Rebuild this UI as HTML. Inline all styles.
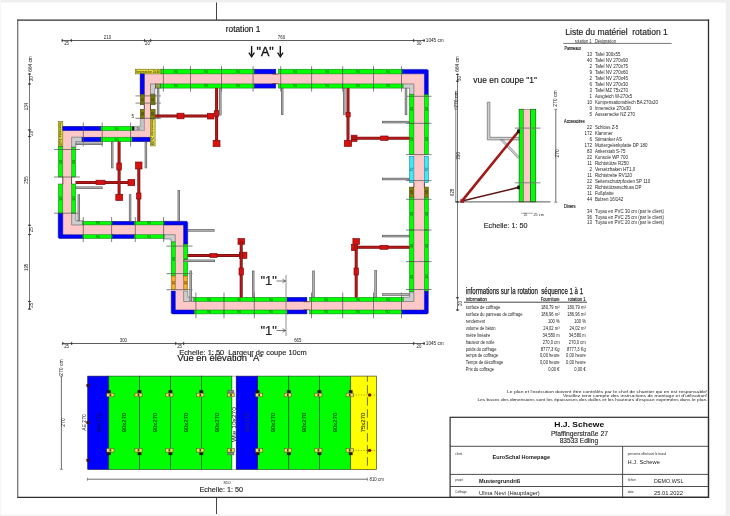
<!DOCTYPE html><html><head><meta charset="utf-8"><style>html,body{margin:0;padding:0;background:#fff;}svg{display:block;will-change:transform;} text{font-family:"Liberation Sans",sans-serif;}</style></head><body>
<svg width="730" height="516" viewBox="0 0 730 516">
<rect x="0.00" y="0.00" width="730.00" height="516.00" fill="#ffffff"/>
<rect x="0.00" y="0.00" width="730.00" height="2.50" fill="#efefef"/>
<rect x="0.00" y="0.00" width="1.00" height="516.00" fill="#f6f6f6"/>
<rect x="725.60" y="0.00" width="4.40" height="516.00" fill="#efefef"/>
<rect x="0.00" y="514.60" width="730.00" height="1.40" fill="#f3f3f3"/>
<line x1="216.50" y1="2.50" x2="216.50" y2="20.00" stroke="#444" stroke-width="1.0"/>
<line x1="216.50" y1="497.00" x2="216.50" y2="514.00" stroke="#444" stroke-width="1.0"/>
<line x1="17.00" y1="20.10" x2="709.10" y2="20.10" stroke="#2e2e2e" stroke-width="1.3"/>
<line x1="17.00" y1="497.30" x2="709.10" y2="497.30" stroke="#2e2e2e" stroke-width="1.3"/>
<line x1="17.75" y1="19.50" x2="17.75" y2="497.90" stroke="#5a5a5a" stroke-width="1.1"/>
<line x1="708.50" y1="19.50" x2="708.50" y2="497.90" stroke="#2e2e2e" stroke-width="1.3"/>
<rect x="144.20" y="73.90" width="280.30" height="10.00" fill="#ffc8c8"/>
<rect x="413.90" y="73.90" width="10.60" height="236.10" fill="#ffc8c8"/>
<rect x="175.30" y="301.50" width="249.20" height="8.50" fill="#ffc8c8"/>
<rect x="175.30" y="224.90" width="8.30" height="85.10" fill="#ffc8c8"/>
<rect x="62.80" y="224.90" width="120.80" height="9.80" fill="#ffc8c8"/>
<rect x="62.80" y="130.60" width="8.80" height="104.10" fill="#ffc8c8"/>
<rect x="62.80" y="130.60" width="87.70" height="6.60" fill="#ffc8c8"/>
<rect x="144.30" y="73.90" width="6.20" height="63.30" fill="#ffc8c8"/>
<rect x="135.30" y="69.20" width="25.70" height="4.70" fill="#e4dc3c" stroke="#6a6a10" stroke-width="0.6"/>
<text xml:space="preserve" x="148.15" y="72.90" font-size="3.9" text-anchor="middle" fill="#202000" font-weight="normal" textLength="23.70" lengthAdjust="spacingAndGlyphs">Innenecke 2x30</text>
<rect x="161.00" y="69.20" width="29.70" height="4.70" fill="#00ff00" stroke="#1f6a1f" stroke-width="0.5"/>
<text xml:space="preserve" x="175.85" y="72.85" font-size="3.6" text-anchor="middle" fill="#063a06" font-weight="normal">90</text>
<rect x="190.70" y="69.20" width="30.80" height="4.70" fill="#00ff00" stroke="#1f6a1f" stroke-width="0.5"/>
<text xml:space="preserve" x="206.10" y="72.85" font-size="3.6" text-anchor="middle" fill="#063a06" font-weight="normal">90</text>
<rect x="221.50" y="69.20" width="33.20" height="4.70" fill="#00ff00" stroke="#1f6a1f" stroke-width="0.5"/>
<text xml:space="preserve" x="238.10" y="72.85" font-size="3.6" text-anchor="middle" fill="#063a06" font-weight="normal">90</text>
<rect x="254.70" y="69.20" width="21.10" height="4.70" fill="#0000ff" stroke="#101070" stroke-width="0.5"/>
<rect x="278.40" y="69.20" width="33.20" height="4.70" fill="#00ff00" stroke="#1f6a1f" stroke-width="0.5"/>
<text xml:space="preserve" x="295.00" y="72.85" font-size="3.6" text-anchor="middle" fill="#063a06" font-weight="normal">90</text>
<rect x="311.60" y="69.20" width="31.10" height="4.70" fill="#00ff00" stroke="#1f6a1f" stroke-width="0.5"/>
<text xml:space="preserve" x="327.15" y="72.85" font-size="3.6" text-anchor="middle" fill="#063a06" font-weight="normal">90</text>
<rect x="342.70" y="69.20" width="30.80" height="4.70" fill="#00ff00" stroke="#1f6a1f" stroke-width="0.5"/>
<text xml:space="preserve" x="358.10" y="72.85" font-size="3.6" text-anchor="middle" fill="#063a06" font-weight="normal">90</text>
<rect x="373.50" y="69.20" width="28.90" height="4.70" fill="#00ff00" stroke="#1f6a1f" stroke-width="0.5"/>
<text xml:space="preserve" x="387.95" y="72.85" font-size="3.6" text-anchor="middle" fill="#063a06" font-weight="normal">90</text>
<path d="M402.4,69.4 L427.3,69.4 L428.3,70.4 L428.3,94.8 L424.4,94.8 L424.4,73.8 L402.4,73.8 Z" fill="#0000ff" stroke="#101070" stroke-width="0.5"/>
<path d="M150.5,83.9 L155.5,83.9 L155.5,88.2 L154.8,88.2 L154.8,94.0 L150.5,94.0 Z" fill="#cdcdcd" stroke="#5a5a5a" stroke-width="0.6"/>
<rect x="155.50" y="83.90" width="5.30" height="4.20" fill="#9a9a50" stroke="#333" stroke-width="0.5"/>
<rect x="160.80" y="83.90" width="29.90" height="4.20" fill="#00ff00" stroke="#1f6a1f" stroke-width="0.5"/>
<text xml:space="preserve" x="175.75" y="87.30" font-size="3.6" text-anchor="middle" fill="#063a06" font-weight="normal">90</text>
<rect x="190.70" y="83.90" width="30.80" height="4.20" fill="#00ff00" stroke="#1f6a1f" stroke-width="0.5"/>
<text xml:space="preserve" x="206.10" y="87.30" font-size="3.6" text-anchor="middle" fill="#063a06" font-weight="normal">90</text>
<rect x="221.50" y="83.90" width="33.20" height="4.20" fill="#00ff00" stroke="#1f6a1f" stroke-width="0.5"/>
<text xml:space="preserve" x="238.10" y="87.30" font-size="3.6" text-anchor="middle" fill="#063a06" font-weight="normal">90</text>
<rect x="254.70" y="83.90" width="21.10" height="4.20" fill="#0000ff" stroke="#101070" stroke-width="0.5"/>
<rect x="278.40" y="83.90" width="33.20" height="4.20" fill="#00ff00" stroke="#1f6a1f" stroke-width="0.5"/>
<text xml:space="preserve" x="295.00" y="87.30" font-size="3.6" text-anchor="middle" fill="#063a06" font-weight="normal">90</text>
<rect x="311.60" y="83.90" width="31.10" height="4.20" fill="#00ff00" stroke="#1f6a1f" stroke-width="0.5"/>
<text xml:space="preserve" x="327.15" y="87.30" font-size="3.6" text-anchor="middle" fill="#063a06" font-weight="normal">90</text>
<rect x="342.70" y="83.90" width="30.80" height="4.20" fill="#00ff00" stroke="#1f6a1f" stroke-width="0.5"/>
<text xml:space="preserve" x="358.10" y="87.30" font-size="3.6" text-anchor="middle" fill="#063a06" font-weight="normal">90</text>
<rect x="373.50" y="83.90" width="29.60" height="4.20" fill="#00ff00" stroke="#1f6a1f" stroke-width="0.5"/>
<text xml:space="preserve" x="388.30" y="87.30" font-size="3.6" text-anchor="middle" fill="#063a06" font-weight="normal">90</text>
<path d="M403.1,83.9 L413.9,83.9 L413.9,94.4 L409.59999999999997,94.4 L409.59999999999997,88.2 L403.1,88.2 Z" fill="#cdcdcd" stroke="#5a5a5a" stroke-width="0.6"/>
<rect x="275.70" y="73.90" width="2.70" height="10.00" fill="#ffc8c8"/>
<line x1="272.50" y1="74.10" x2="278.40" y2="74.10" stroke="#402020" stroke-width="0.7"/>
<line x1="272.50" y1="83.70" x2="278.40" y2="83.70" stroke="#402020" stroke-width="0.7"/>
<rect x="409.40" y="94.40" width="4.50" height="28.90" fill="#00ff00" stroke="#1f6a1f" stroke-width="0.5"/>
<text xml:space="preserve" x="412.95" y="108.85" font-size="3.6" text-anchor="middle" fill="#063a06" font-weight="normal" transform="rotate(-90 412.95 108.85)">90</text>
<rect x="409.40" y="123.30" width="4.50" height="31.30" fill="#00ff00" stroke="#1f6a1f" stroke-width="0.5"/>
<text xml:space="preserve" x="412.95" y="138.95" font-size="3.6" text-anchor="middle" fill="#063a06" font-weight="normal" transform="rotate(-90 412.95 138.95)">90</text>
<rect x="409.40" y="156.20" width="4.50" height="26.40" fill="#40e8f8" stroke="#206a80" stroke-width="0.5"/>
<text xml:space="preserve" x="412.95" y="169.40" font-size="3.6" text-anchor="middle" fill="#104050" font-weight="normal" transform="rotate(-90 412.95 169.40)">75</text>
<rect x="409.40" y="187.10" width="4.50" height="10.40" fill="#808000" stroke="#3a3a10" stroke-width="0.5"/>
<text xml:space="preserve" x="412.95" y="192.30" font-size="3.6" text-anchor="middle" fill="#222" font-weight="normal" transform="rotate(-90 412.95 192.30)">30</text>
<rect x="409.40" y="197.50" width="4.50" height="32.50" fill="#00ff00" stroke="#1f6a1f" stroke-width="0.5"/>
<text xml:space="preserve" x="412.95" y="213.75" font-size="3.6" text-anchor="middle" fill="#063a06" font-weight="normal" transform="rotate(-90 412.95 213.75)">90</text>
<rect x="409.40" y="230.00" width="4.50" height="31.60" fill="#00ff00" stroke="#1f6a1f" stroke-width="0.5"/>
<text xml:space="preserve" x="412.95" y="245.80" font-size="3.6" text-anchor="middle" fill="#063a06" font-weight="normal" transform="rotate(-90 412.95 245.80)">90</text>
<rect x="409.40" y="261.60" width="4.50" height="30.40" fill="#00ff00" stroke="#1f6a1f" stroke-width="0.5"/>
<text xml:space="preserve" x="412.95" y="276.80" font-size="3.6" text-anchor="middle" fill="#063a06" font-weight="normal" transform="rotate(-90 412.95 276.80)">90</text>
<rect x="424.40" y="94.80" width="4.00" height="28.50" fill="#00ff00" stroke="#1f6a1f" stroke-width="0.5"/>
<text xml:space="preserve" x="427.70" y="109.05" font-size="3.6" text-anchor="middle" fill="#063a06" font-weight="normal" transform="rotate(-90 427.70 109.05)">90</text>
<rect x="424.40" y="123.30" width="4.00" height="31.30" fill="#00ff00" stroke="#1f6a1f" stroke-width="0.5"/>
<text xml:space="preserve" x="427.70" y="138.95" font-size="3.6" text-anchor="middle" fill="#063a06" font-weight="normal" transform="rotate(-90 427.70 138.95)">90</text>
<rect x="424.40" y="156.20" width="4.00" height="26.40" fill="#40e8f8" stroke="#206a80" stroke-width="0.5"/>
<text xml:space="preserve" x="427.70" y="169.40" font-size="3.6" text-anchor="middle" fill="#104050" font-weight="normal" transform="rotate(-90 427.70 169.40)">75</text>
<rect x="424.40" y="187.10" width="4.00" height="10.40" fill="#808000" stroke="#3a3a10" stroke-width="0.5"/>
<text xml:space="preserve" x="427.70" y="192.30" font-size="3.6" text-anchor="middle" fill="#222" font-weight="normal" transform="rotate(-90 427.70 192.30)">30</text>
<rect x="424.40" y="197.50" width="4.00" height="32.50" fill="#00ff00" stroke="#1f6a1f" stroke-width="0.5"/>
<text xml:space="preserve" x="427.70" y="213.75" font-size="3.6" text-anchor="middle" fill="#063a06" font-weight="normal" transform="rotate(-90 427.70 213.75)">90</text>
<rect x="424.40" y="230.00" width="4.00" height="31.60" fill="#00ff00" stroke="#1f6a1f" stroke-width="0.5"/>
<text xml:space="preserve" x="427.70" y="245.80" font-size="3.6" text-anchor="middle" fill="#063a06" font-weight="normal" transform="rotate(-90 427.70 245.80)">90</text>
<rect x="424.40" y="261.60" width="4.00" height="29.60" fill="#00ff00" stroke="#1f6a1f" stroke-width="0.5"/>
<text xml:space="preserve" x="427.70" y="276.40" font-size="3.6" text-anchor="middle" fill="#063a06" font-weight="normal" transform="rotate(-90 427.70 276.40)">90</text>
<path d="M424.4,291.2 L428.3,291.2 L428.3,313.0 L427.3,314.0 L401.4,314.0 L401.4,310.0 L424.4,310.0 Z" fill="#0000ff" stroke="#101070" stroke-width="0.5"/>
<path d="M409.59999999999997,292.0 L413.9,292.0 L413.9,301.5 L403.1,301.5 L403.1,297.2 L409.59999999999997,297.2 Z" fill="#cdcdcd" stroke="#5a5a5a" stroke-width="0.6"/>
<line x1="413.90" y1="182.60" x2="413.90" y2="187.10" stroke="#222" stroke-width="0.8"/>
<line x1="424.40" y1="182.60" x2="424.40" y2="187.10" stroke="#222" stroke-width="0.8"/>
<path d="M183.6,291.0 L187.9,291.0 L187.9,297.2 L194.0,297.2 L194.0,301.5 L183.6,301.5 Z" fill="#cdcdcd" stroke="#5a5a5a" stroke-width="0.6"/>
<rect x="194.00" y="297.30" width="30.00" height="4.20" fill="#00ff00" stroke="#1f6a1f" stroke-width="0.5"/>
<text xml:space="preserve" x="209.00" y="300.70" font-size="3.6" text-anchor="middle" fill="#063a06" font-weight="normal">90</text>
<rect x="224.00" y="297.30" width="30.30" height="4.20" fill="#00ff00" stroke="#1f6a1f" stroke-width="0.5"/>
<text xml:space="preserve" x="239.15" y="300.70" font-size="3.6" text-anchor="middle" fill="#063a06" font-weight="normal">90</text>
<rect x="254.30" y="297.30" width="32.90" height="4.20" fill="#00ff00" stroke="#1f6a1f" stroke-width="0.5"/>
<text xml:space="preserve" x="270.75" y="300.70" font-size="3.6" text-anchor="middle" fill="#063a06" font-weight="normal">90</text>
<rect x="287.20" y="297.30" width="19.70" height="4.20" fill="#0000ff" stroke="#101070" stroke-width="0.5"/>
<rect x="309.60" y="297.30" width="33.10" height="4.20" fill="#00ff00" stroke="#1f6a1f" stroke-width="0.5"/>
<text xml:space="preserve" x="326.15" y="300.70" font-size="3.6" text-anchor="middle" fill="#063a06" font-weight="normal">90</text>
<rect x="342.70" y="297.30" width="30.80" height="4.20" fill="#00ff00" stroke="#1f6a1f" stroke-width="0.5"/>
<text xml:space="preserve" x="358.10" y="300.70" font-size="3.6" text-anchor="middle" fill="#063a06" font-weight="normal">90</text>
<rect x="373.50" y="297.30" width="29.60" height="4.20" fill="#00ff00" stroke="#1f6a1f" stroke-width="0.5"/>
<text xml:space="preserve" x="388.30" y="300.70" font-size="3.6" text-anchor="middle" fill="#063a06" font-weight="normal">90</text>
<rect x="194.00" y="310.00" width="30.00" height="3.90" fill="#00ff00" stroke="#1f6a1f" stroke-width="0.5"/>
<text xml:space="preserve" x="209.00" y="313.25" font-size="3.6" text-anchor="middle" fill="#063a06" font-weight="normal">90</text>
<rect x="224.00" y="310.00" width="30.30" height="3.90" fill="#00ff00" stroke="#1f6a1f" stroke-width="0.5"/>
<text xml:space="preserve" x="239.15" y="313.25" font-size="3.6" text-anchor="middle" fill="#063a06" font-weight="normal">90</text>
<rect x="254.30" y="310.00" width="32.90" height="3.90" fill="#00ff00" stroke="#1f6a1f" stroke-width="0.5"/>
<text xml:space="preserve" x="270.75" y="313.25" font-size="3.6" text-anchor="middle" fill="#063a06" font-weight="normal">90</text>
<rect x="287.20" y="310.00" width="19.70" height="3.90" fill="#0000ff" stroke="#101070" stroke-width="0.5"/>
<rect x="309.60" y="310.00" width="33.10" height="3.90" fill="#00ff00" stroke="#1f6a1f" stroke-width="0.5"/>
<text xml:space="preserve" x="326.15" y="313.25" font-size="3.6" text-anchor="middle" fill="#063a06" font-weight="normal">90</text>
<rect x="342.70" y="310.00" width="30.80" height="3.90" fill="#00ff00" stroke="#1f6a1f" stroke-width="0.5"/>
<text xml:space="preserve" x="358.10" y="313.25" font-size="3.6" text-anchor="middle" fill="#063a06" font-weight="normal">90</text>
<rect x="373.50" y="310.00" width="27.90" height="3.90" fill="#00ff00" stroke="#1f6a1f" stroke-width="0.5"/>
<text xml:space="preserve" x="387.45" y="313.25" font-size="3.6" text-anchor="middle" fill="#063a06" font-weight="normal">90</text>
<path d="M171.2,291.0 L175.3,291.0 L175.3,310.0 L194.0,310.0 L194.0,313.9 L172.2,313.9 L171.2,312.9 Z" fill="#0000ff" stroke="#101070" stroke-width="0.5"/>
<rect x="306.90" y="301.50" width="2.70" height="8.50" fill="#ffc8c8"/>
<line x1="303.50" y1="301.70" x2="309.60" y2="301.70" stroke="#402020" stroke-width="0.7"/>
<line x1="303.50" y1="309.80" x2="309.60" y2="309.80" stroke="#402020" stroke-width="0.7"/>
<path d="M164.0,234.7 L175.3,234.7 L175.3,242.0 L171.0,242.0 L171.0,239.0 L164.0,239.0 Z" fill="#cdcdcd" stroke="#5a5a5a" stroke-width="0.6"/>
<rect x="171.20" y="242.00" width="4.10" height="34.00" fill="#00ff00" stroke="#1f6a1f" stroke-width="0.5"/>
<text xml:space="preserve" x="174.55" y="259.00" font-size="3.6" text-anchor="middle" fill="#063a06" font-weight="normal" transform="rotate(-90 174.55 259.00)">90</text>
<rect x="171.20" y="276.00" width="4.10" height="13.70" fill="#f4b030" stroke="#7a5010" stroke-width="0.5"/>
<text xml:space="preserve" x="174.55" y="282.85" font-size="3.6" text-anchor="middle" fill="#402000" font-weight="normal" transform="rotate(-90 174.55 282.85)">30</text>
<path d="M164.0,221.3 L186.7,221.3 L187.7,222.3 L187.7,244.3 L183.6,244.3 L183.6,225.0 L164.0,225.0 Z" fill="#0000ff" stroke="#101070" stroke-width="0.5"/>
<rect x="183.60" y="244.30" width="4.10" height="31.70" fill="#00ff00" stroke="#1f6a1f" stroke-width="0.5"/>
<text xml:space="preserve" x="186.95" y="260.15" font-size="3.6" text-anchor="middle" fill="#063a06" font-weight="normal" transform="rotate(-90 186.95 260.15)">90</text>
<rect x="183.60" y="276.00" width="4.10" height="13.70" fill="#f4b030" stroke="#7a5010" stroke-width="0.5"/>
<text xml:space="preserve" x="186.95" y="282.85" font-size="3.6" text-anchor="middle" fill="#402000" font-weight="normal" transform="rotate(-90 186.95 282.85)">30</text>
<path d="M71.6,213.0 L75.89999999999999,213.0 L75.89999999999999,220.7 L82.9,220.7 L82.9,225.0 L71.6,225.0 Z" fill="#cdcdcd" stroke="#5a5a5a" stroke-width="0.6"/>
<rect x="82.90" y="221.30" width="29.80" height="3.60" fill="#00ff00" stroke="#1f6a1f" stroke-width="0.5"/>
<text xml:space="preserve" x="97.80" y="224.40" font-size="3.6" text-anchor="middle" fill="#063a06" font-weight="normal">90</text>
<rect x="112.70" y="221.30" width="21.50" height="3.60" fill="#0000ff" stroke="#101070" stroke-width="0.5"/>
<rect x="134.20" y="221.30" width="29.80" height="3.60" fill="#00ff00" stroke="#1f6a1f" stroke-width="0.5"/>
<text xml:space="preserve" x="149.10" y="224.40" font-size="3.6" text-anchor="middle" fill="#063a06" font-weight="normal">90</text>
<path d="M58.2,213.0 L62.8,213.0 L62.8,234.7 L82.9,234.7 L82.9,238.5 L59.2,238.5 L58.2,237.5 Z" fill="#0000ff" stroke="#101070" stroke-width="0.5"/>
<rect x="82.90" y="234.70" width="29.80" height="3.80" fill="#00ff00" stroke="#1f6a1f" stroke-width="0.5"/>
<text xml:space="preserve" x="97.80" y="237.90" font-size="3.6" text-anchor="middle" fill="#063a06" font-weight="normal">90</text>
<rect x="112.70" y="234.70" width="21.50" height="3.80" fill="#0000ff" stroke="#101070" stroke-width="0.5"/>
<rect x="134.20" y="234.70" width="29.80" height="3.80" fill="#00ff00" stroke="#1f6a1f" stroke-width="0.5"/>
<text xml:space="preserve" x="149.10" y="237.90" font-size="3.6" text-anchor="middle" fill="#063a06" font-weight="normal">90</text>
<rect x="58.40" y="121.50" width="4.40" height="25.00" fill="#e4dc3c" stroke="#6a6a10" stroke-width="0.6"/>
<text xml:space="preserve" x="59.25" y="134.00" font-size="3.9" text-anchor="middle" fill="#202000" font-weight="normal" transform="rotate(90 59.25 134.00)" textLength="23.00" lengthAdjust="spacingAndGlyphs">Innenecke 2x30</text>
<rect x="58.40" y="146.50" width="4.40" height="30.50" fill="#00ff00" stroke="#1f6a1f" stroke-width="0.5"/>
<text xml:space="preserve" x="61.90" y="161.75" font-size="3.6" text-anchor="middle" fill="#063a06" font-weight="normal" transform="rotate(-90 61.90 161.75)">90</text>
<rect x="58.40" y="184.00" width="4.40" height="29.00" fill="#00ff00" stroke="#1f6a1f" stroke-width="0.5"/>
<text xml:space="preserve" x="61.90" y="198.50" font-size="3.6" text-anchor="middle" fill="#063a06" font-weight="normal" transform="rotate(-90 61.90 198.50)">90</text>
<rect x="71.60" y="147.00" width="4.00" height="30.00" fill="#00ff00" stroke="#1f6a1f" stroke-width="0.5"/>
<text xml:space="preserve" x="74.90" y="162.00" font-size="3.6" text-anchor="middle" fill="#063a06" font-weight="normal" transform="rotate(-90 74.90 162.00)">90</text>
<rect x="71.60" y="184.00" width="4.00" height="29.00" fill="#00ff00" stroke="#1f6a1f" stroke-width="0.5"/>
<text xml:space="preserve" x="74.90" y="198.50" font-size="3.6" text-anchor="middle" fill="#063a06" font-weight="normal" transform="rotate(-90 74.90 198.50)">90</text>
<line x1="62.80" y1="177.00" x2="62.80" y2="184.00" stroke="#222" stroke-width="0.8"/>
<line x1="71.60" y1="177.00" x2="71.60" y2="184.00" stroke="#222" stroke-width="0.8"/>
<rect x="62.80" y="126.30" width="38.20" height="4.30" fill="#0000ff" stroke="#101070" stroke-width="0.5"/>
<rect x="101.00" y="126.30" width="31.20" height="4.30" fill="#00ff00" stroke="#1f6a1f" stroke-width="0.5"/>
<text xml:space="preserve" x="116.60" y="129.75" font-size="3.6" text-anchor="middle" fill="#063a06" font-weight="normal">90</text>
<rect x="132.20" y="126.30" width="2.30" height="4.30" fill="#111"/>
<path d="M134.5,126.3 L140.3,126.3 L140.3,118.3 L144.4,118.3 L144.4,130.6 L134.5,130.6 Z" fill="#c4c4c4" stroke="#666" stroke-width="0.5"/>
<text xml:space="preserve" x="138.20" y="129.80" font-size="3.0" text-anchor="middle" fill="#1e1e1e" font-weight="normal">20</text>
<path d="M71.6,137.2 L82.1,137.2 L82.1,141.5 L75.89999999999999,141.5 L75.89999999999999,147.0 L71.6,147.0 Z" fill="#cdcdcd" stroke="#5a5a5a" stroke-width="0.6"/>
<rect x="82.10" y="137.20" width="18.90" height="4.50" fill="#0000ff" stroke="#101070" stroke-width="0.5"/>
<rect x="101.00" y="137.20" width="31.20" height="4.50" fill="#00ff00" stroke="#1f6a1f" stroke-width="0.5"/>
<text xml:space="preserve" x="116.60" y="140.75" font-size="3.6" text-anchor="middle" fill="#063a06" font-weight="normal">90</text>
<rect x="132.20" y="137.20" width="18.30" height="4.50" fill="#0000ff" stroke="#101070" stroke-width="0.5"/>
<rect x="150.50" y="118.30" width="4.60" height="27.60" fill="#e4dc3c" stroke="#6a6a10" stroke-width="0.6"/>
<text xml:space="preserve" x="151.45" y="132.10" font-size="3.9" text-anchor="middle" fill="#202000" font-weight="normal" transform="rotate(90 151.45 132.10)" textLength="25.60" lengthAdjust="spacingAndGlyphs">Innenecke 2x30</text>
<rect x="140.10" y="73.90" width="4.20" height="20.60" fill="#0000ff" stroke="#101070" stroke-width="0.5"/>
<rect x="140.30" y="94.50" width="4.00" height="10.30" fill="#808000" stroke="#3a3a10" stroke-width="0.5"/>
<text xml:space="preserve" x="143.60" y="99.65" font-size="3.6" text-anchor="middle" fill="#222" font-weight="normal" transform="rotate(-90 143.60 99.65)">30</text>
<rect x="140.30" y="109.30" width="4.00" height="9.00" fill="#808000" stroke="#3a3a10" stroke-width="0.5"/>
<text xml:space="preserve" x="143.60" y="113.80" font-size="3.6" text-anchor="middle" fill="#222" font-weight="normal" transform="rotate(-90 143.60 113.80)">30</text>
<rect x="150.50" y="94.50" width="4.60" height="10.30" fill="#808000" stroke="#3a3a10" stroke-width="0.5"/>
<text xml:space="preserve" x="154.10" y="99.65" font-size="3.6" text-anchor="middle" fill="#222" font-weight="normal" transform="rotate(-90 154.10 99.65)">30</text>
<rect x="150.50" y="109.30" width="4.60" height="9.00" fill="#808000" stroke="#3a3a10" stroke-width="0.5"/>
<text xml:space="preserve" x="154.10" y="113.80" font-size="3.6" text-anchor="middle" fill="#222" font-weight="normal" transform="rotate(-90 154.10 113.80)">30</text>
<line x1="144.30" y1="104.80" x2="144.30" y2="109.30" stroke="#222" stroke-width="0.8"/>
<line x1="150.50" y1="104.80" x2="150.50" y2="109.30" stroke="#222" stroke-width="0.8"/>
<text xml:space="preserve" x="132.90" y="118.00" font-size="4.6" text-anchor="middle" fill="#1e1e1e" font-weight="normal">5</text>
<line x1="163.40" y1="66.20" x2="163.40" y2="91.60" stroke="#505050" stroke-width="0.7"/>
<line x1="190.50" y1="66.20" x2="190.50" y2="91.60" stroke="#505050" stroke-width="0.7"/>
<line x1="221.50" y1="66.20" x2="221.50" y2="91.60" stroke="#505050" stroke-width="0.7"/>
<line x1="253.10" y1="66.20" x2="253.10" y2="91.60" stroke="#505050" stroke-width="0.7"/>
<line x1="280.70" y1="66.20" x2="280.70" y2="91.60" stroke="#505050" stroke-width="0.7"/>
<line x1="311.60" y1="66.20" x2="311.60" y2="91.60" stroke="#505050" stroke-width="0.7"/>
<line x1="342.70" y1="66.20" x2="342.70" y2="91.60" stroke="#505050" stroke-width="0.7"/>
<line x1="373.50" y1="66.20" x2="373.50" y2="91.60" stroke="#505050" stroke-width="0.7"/>
<line x1="401.50" y1="66.20" x2="401.50" y2="91.60" stroke="#505050" stroke-width="0.7"/>
<line x1="406.00" y1="96.30" x2="431.50" y2="96.30" stroke="#505050" stroke-width="0.7"/>
<line x1="406.00" y1="123.30" x2="431.50" y2="123.30" stroke="#505050" stroke-width="0.7"/>
<line x1="406.00" y1="154.60" x2="431.50" y2="154.60" stroke="#505050" stroke-width="0.7"/>
<line x1="406.00" y1="180.60" x2="431.50" y2="180.60" stroke="#505050" stroke-width="0.7"/>
<line x1="406.00" y1="199.30" x2="431.50" y2="199.30" stroke="#505050" stroke-width="0.7"/>
<line x1="406.00" y1="230.00" x2="431.50" y2="230.00" stroke="#505050" stroke-width="0.7"/>
<line x1="406.00" y1="261.60" x2="431.50" y2="261.60" stroke="#505050" stroke-width="0.7"/>
<line x1="406.00" y1="289.50" x2="431.50" y2="289.50" stroke="#505050" stroke-width="0.7"/>
<line x1="195.90" y1="292.50" x2="195.90" y2="318.30" stroke="#505050" stroke-width="0.7"/>
<line x1="224.00" y1="292.50" x2="224.00" y2="318.30" stroke="#505050" stroke-width="0.7"/>
<line x1="254.30" y1="292.50" x2="254.30" y2="318.30" stroke="#505050" stroke-width="0.7"/>
<line x1="311.50" y1="292.50" x2="311.50" y2="318.30" stroke="#505050" stroke-width="0.7"/>
<line x1="342.70" y1="292.50" x2="342.70" y2="318.30" stroke="#505050" stroke-width="0.7"/>
<line x1="373.50" y1="292.50" x2="373.50" y2="318.30" stroke="#505050" stroke-width="0.7"/>
<line x1="401.50" y1="292.50" x2="401.50" y2="318.30" stroke="#505050" stroke-width="0.7"/>
<line x1="166.40" y1="246.10" x2="192.50" y2="246.10" stroke="#505050" stroke-width="0.7"/>
<line x1="166.40" y1="273.60" x2="192.50" y2="273.60" stroke="#505050" stroke-width="0.7"/>
<line x1="166.40" y1="289.70" x2="192.50" y2="289.70" stroke="#505050" stroke-width="0.7"/>
<line x1="83.30" y1="217.00" x2="83.30" y2="242.00" stroke="#505050" stroke-width="0.7"/>
<line x1="111.60" y1="217.00" x2="111.60" y2="242.00" stroke="#505050" stroke-width="0.7"/>
<line x1="135.30" y1="217.00" x2="135.30" y2="242.00" stroke="#505050" stroke-width="0.7"/>
<line x1="163.60" y1="217.00" x2="163.60" y2="242.00" stroke="#505050" stroke-width="0.7"/>
<line x1="54.00" y1="149.50" x2="80.00" y2="149.50" stroke="#505050" stroke-width="0.7"/>
<line x1="54.00" y1="177.00" x2="80.00" y2="177.00" stroke="#505050" stroke-width="0.7"/>
<line x1="54.00" y1="213.20" x2="80.00" y2="213.20" stroke="#505050" stroke-width="0.7"/>
<line x1="83.30" y1="122.50" x2="83.30" y2="146.50" stroke="#505050" stroke-width="0.7"/>
<line x1="102.20" y1="122.50" x2="102.20" y2="146.50" stroke="#505050" stroke-width="0.7"/>
<line x1="130.60" y1="122.50" x2="130.60" y2="146.50" stroke="#505050" stroke-width="0.7"/>
<line x1="135.50" y1="95.90" x2="160.90" y2="95.90" stroke="#505050" stroke-width="0.7"/>
<line x1="135.50" y1="103.10" x2="160.90" y2="103.10" stroke="#505050" stroke-width="0.7"/>
<line x1="135.50" y1="118.30" x2="160.90" y2="118.30" stroke="#505050" stroke-width="0.7"/>
<line x1="158.10" y1="88.10" x2="158.10" y2="118.30" stroke="#5a5a5a" stroke-width="2.4"/>
<line x1="158.10" y1="88.70" x2="158.10" y2="117.70" stroke="#b4b4b4" stroke-width="1.1"/>
<line x1="220.30" y1="88.10" x2="220.30" y2="115.40" stroke="#5a5a5a" stroke-width="2.4"/>
<line x1="220.30" y1="88.70" x2="220.30" y2="114.80" stroke="#b4b4b4" stroke-width="1.1"/>
<line x1="282.20" y1="88.10" x2="282.20" y2="115.00" stroke="#5a5a5a" stroke-width="2.4"/>
<line x1="282.20" y1="88.70" x2="282.20" y2="114.40" stroke="#b4b4b4" stroke-width="1.1"/>
<line x1="344.30" y1="88.10" x2="344.30" y2="115.00" stroke="#5a5a5a" stroke-width="2.4"/>
<line x1="344.30" y1="88.70" x2="344.30" y2="114.40" stroke="#b4b4b4" stroke-width="1.1"/>
<line x1="406.00" y1="88.40" x2="406.00" y2="115.00" stroke="#5a5a5a" stroke-width="2.4"/>
<line x1="406.00" y1="89.00" x2="406.00" y2="114.40" stroke="#b4b4b4" stroke-width="1.1"/>
<line x1="112.20" y1="141.70" x2="112.20" y2="168.30" stroke="#5a5a5a" stroke-width="2.4"/>
<line x1="112.20" y1="142.30" x2="112.20" y2="167.70" stroke="#b4b4b4" stroke-width="1.1"/>
<line x1="145.90" y1="141.70" x2="145.90" y2="168.30" stroke="#5a5a5a" stroke-width="2.4"/>
<line x1="145.90" y1="142.30" x2="145.90" y2="167.70" stroke="#b4b4b4" stroke-width="1.1"/>
<line x1="78.80" y1="194.30" x2="78.80" y2="221.30" stroke="#5a5a5a" stroke-width="2.4"/>
<line x1="78.80" y1="194.90" x2="78.80" y2="220.70" stroke="#b4b4b4" stroke-width="1.1"/>
<line x1="130.10" y1="194.30" x2="130.10" y2="221.30" stroke="#5a5a5a" stroke-width="2.4"/>
<line x1="130.10" y1="194.90" x2="130.10" y2="220.70" stroke="#b4b4b4" stroke-width="1.1"/>
<line x1="178.80" y1="190.00" x2="178.80" y2="221.30" stroke="#5a5a5a" stroke-width="2.4"/>
<line x1="178.80" y1="190.60" x2="178.80" y2="220.70" stroke="#b4b4b4" stroke-width="1.1"/>
<line x1="190.70" y1="270.50" x2="190.70" y2="301.00" stroke="#5a5a5a" stroke-width="2.4"/>
<line x1="190.70" y1="271.10" x2="190.70" y2="300.40" stroke="#b4b4b4" stroke-width="1.1"/>
<line x1="253.20" y1="270.60" x2="253.20" y2="297.30" stroke="#5a5a5a" stroke-width="2.4"/>
<line x1="253.20" y1="271.20" x2="253.20" y2="296.70" stroke="#b4b4b4" stroke-width="1.1"/>
<line x1="313.50" y1="270.60" x2="313.50" y2="297.30" stroke="#5a5a5a" stroke-width="2.4"/>
<line x1="313.50" y1="271.20" x2="313.50" y2="296.70" stroke="#b4b4b4" stroke-width="1.1"/>
<line x1="375.60" y1="270.00" x2="375.60" y2="297.30" stroke="#5a5a5a" stroke-width="2.4"/>
<line x1="375.60" y1="270.60" x2="375.60" y2="296.70" stroke="#b4b4b4" stroke-width="1.1"/>
<line x1="75.60" y1="143.80" x2="102.60" y2="143.80" stroke="#5a5a5a" stroke-width="2.4"/>
<line x1="76.20" y1="143.80" x2="102.00" y2="143.80" stroke="#b4b4b4" stroke-width="1.1"/>
<line x1="75.60" y1="187.70" x2="102.60" y2="187.70" stroke="#5a5a5a" stroke-width="2.4"/>
<line x1="76.20" y1="187.70" x2="102.00" y2="187.70" stroke="#b4b4b4" stroke-width="1.1"/>
<line x1="187.70" y1="230.40" x2="214.60" y2="230.40" stroke="#5a5a5a" stroke-width="2.4"/>
<line x1="188.30" y1="230.40" x2="214.00" y2="230.40" stroke="#b4b4b4" stroke-width="1.1"/>
<line x1="183.60" y1="260.80" x2="215.00" y2="260.80" stroke="#5a5a5a" stroke-width="2.4"/>
<line x1="184.20" y1="260.80" x2="214.40" y2="260.80" stroke="#b4b4b4" stroke-width="1.1"/>
<line x1="382.00" y1="122.10" x2="409.40" y2="122.10" stroke="#5a5a5a" stroke-width="2.4"/>
<line x1="382.60" y1="122.10" x2="408.80" y2="122.10" stroke="#b4b4b4" stroke-width="1.1"/>
<line x1="382.00" y1="179.00" x2="409.40" y2="179.00" stroke="#5a5a5a" stroke-width="2.4"/>
<line x1="382.60" y1="179.00" x2="408.80" y2="179.00" stroke="#b4b4b4" stroke-width="1.1"/>
<line x1="382.00" y1="236.10" x2="409.40" y2="236.10" stroke="#5a5a5a" stroke-width="2.4"/>
<line x1="382.60" y1="236.10" x2="408.80" y2="236.10" stroke="#b4b4b4" stroke-width="1.1"/>
<line x1="382.00" y1="294.50" x2="409.40" y2="294.50" stroke="#5a5a5a" stroke-width="2.4"/>
<line x1="382.60" y1="294.50" x2="408.80" y2="294.50" stroke="#b4b4b4" stroke-width="1.1"/>
<line x1="155.10" y1="116.00" x2="214.00" y2="116.00" stroke="#701010" stroke-width="3.0"/>
<line x1="155.10" y1="116.00" x2="214.00" y2="116.00" stroke="#b81818" stroke-width="1.7"/>
<rect x="177.00" y="113.20" width="7.00" height="5.60" fill="#d81010" stroke="#7a1010" stroke-width="0.7"/>
<rect x="207.40" y="113.30" width="6.60" height="5.70" fill="#d81010" stroke="#7a1010" stroke-width="0.7"/>
<line x1="216.60" y1="88.10" x2="216.60" y2="144.00" stroke="#701010" stroke-width="3.0"/>
<line x1="216.60" y1="88.10" x2="216.60" y2="144.00" stroke="#b81818" stroke-width="1.7"/>
<rect x="214.40" y="110.70" width="4.30" height="5.60" fill="#d81010" stroke="#7a1010" stroke-width="0.7"/>
<rect x="213.10" y="140.30" width="6.90" height="6.40" fill="#d81010" stroke="#7a1010" stroke-width="0.7"/>
<line x1="348.00" y1="88.10" x2="348.00" y2="141.00" stroke="#701010" stroke-width="3.0"/>
<line x1="348.00" y1="88.10" x2="348.00" y2="141.00" stroke="#b81818" stroke-width="1.7"/>
<rect x="346.00" y="112.60" width="4.20" height="4.30" fill="#d81010" stroke="#7a1010" stroke-width="0.7"/>
<rect x="351.20" y="135.20" width="5.80" height="6.20" fill="#d81010" stroke="#7a1010" stroke-width="0.7"/>
<rect x="344.30" y="140.60" width="7.30" height="5.80" fill="#d81010" stroke="#7a1010" stroke-width="0.7"/>
<line x1="351.00" y1="138.20" x2="409.40" y2="138.20" stroke="#701010" stroke-width="3.0"/>
<line x1="351.00" y1="138.20" x2="409.40" y2="138.20" stroke="#b81818" stroke-width="1.7"/>
<rect x="380.70" y="136.00" width="7.30" height="4.40" fill="#d81010" stroke="#7a1010" stroke-width="0.7"/>
<line x1="356.50" y1="247.30" x2="409.40" y2="247.30" stroke="#701010" stroke-width="3.0"/>
<line x1="356.50" y1="247.30" x2="409.40" y2="247.30" stroke="#b81818" stroke-width="1.7"/>
<rect x="380.00" y="245.30" width="8.00" height="4.00" fill="#d81010" stroke="#7a1010" stroke-width="0.7"/>
<rect x="352.90" y="238.60" width="6.60" height="5.70" fill="#d81010" stroke="#7a1010" stroke-width="0.7"/>
<rect x="351.50" y="244.30" width="5.50" height="6.30" fill="#d81010" stroke="#7a1010" stroke-width="0.7"/>
<line x1="356.20" y1="244.00" x2="356.20" y2="297.30" stroke="#701010" stroke-width="3.0"/>
<line x1="356.20" y1="244.00" x2="356.20" y2="297.30" stroke="#b81818" stroke-width="1.7"/>
<rect x="354.00" y="268.00" width="4.40" height="7.00" fill="#d81010" stroke="#7a1010" stroke-width="0.7"/>
<line x1="187.70" y1="255.50" x2="246.00" y2="255.50" stroke="#701010" stroke-width="3.0"/>
<line x1="187.70" y1="255.50" x2="246.00" y2="255.50" stroke="#b81818" stroke-width="1.7"/>
<rect x="210.00" y="253.50" width="7.00" height="4.00" fill="#d81010" stroke="#7a1010" stroke-width="0.7"/>
<rect x="238.00" y="238.60" width="6.60" height="5.70" fill="#d81010" stroke="#7a1010" stroke-width="0.7"/>
<rect x="239.50" y="252.20" width="7.40" height="6.10" fill="#d81010" stroke="#7a1010" stroke-width="0.7"/>
<line x1="241.20" y1="241.00" x2="241.20" y2="297.30" stroke="#701010" stroke-width="3.0"/>
<line x1="241.20" y1="241.00" x2="241.20" y2="297.30" stroke="#b81818" stroke-width="1.7"/>
<rect x="239.00" y="268.00" width="4.40" height="7.00" fill="#d81010" stroke="#7a1010" stroke-width="0.7"/>
<line x1="75.60" y1="182.40" x2="134.70" y2="182.40" stroke="#701010" stroke-width="3.0"/>
<line x1="75.60" y1="182.40" x2="134.70" y2="182.40" stroke="#b81818" stroke-width="1.7"/>
<rect x="96.00" y="180.20" width="9.00" height="4.40" fill="#d81010" stroke="#7a1010" stroke-width="0.7"/>
<rect x="128.00" y="179.50" width="6.70" height="6.20" fill="#d81010" stroke="#7a1010" stroke-width="0.7"/>
<line x1="119.10" y1="141.70" x2="119.10" y2="196.70" stroke="#701010" stroke-width="3.0"/>
<line x1="119.10" y1="141.70" x2="119.10" y2="196.70" stroke="#b81818" stroke-width="1.7"/>
<rect x="116.80" y="163.00" width="4.60" height="7.00" fill="#d81010" stroke="#7a1010" stroke-width="0.7"/>
<rect x="115.80" y="194.30" width="6.90" height="6.20" fill="#d81010" stroke="#7a1010" stroke-width="0.7"/>
<line x1="138.80" y1="162.00" x2="138.80" y2="221.30" stroke="#701010" stroke-width="3.0"/>
<line x1="138.80" y1="162.00" x2="138.80" y2="221.30" stroke="#b81818" stroke-width="1.7"/>
<rect x="135.50" y="162.00" width="6.50" height="7.00" fill="#d81010" stroke="#7a1010" stroke-width="0.7"/>
<rect x="136.60" y="193.00" width="4.40" height="6.00" fill="#d81010" stroke="#7a1010" stroke-width="0.7"/>
<line x1="286.00" y1="275.00" x2="286.00" y2="336.00" stroke="#777" stroke-width="0.8"/>
<text xml:space="preserve" x="268.60" y="284.60" font-size="13.0" text-anchor="middle" fill="#2a2a2a" font-weight="normal" textLength="16.40" lengthAdjust="spacingAndGlyphs" stroke="#2a2a2a" stroke-width="0.234">"1"</text>
<line x1="276.50" y1="281.00" x2="285.50" y2="281.00" stroke="#444" stroke-width="0.7"/>
<line x1="282.50" y1="279.20" x2="285.50" y2="281.00" stroke="#444" stroke-width="0.7"/>
<line x1="282.50" y1="282.80" x2="285.50" y2="281.00" stroke="#444" stroke-width="0.7"/>
<text xml:space="preserve" x="268.60" y="334.80" font-size="13.0" text-anchor="middle" fill="#2a2a2a" font-weight="normal" textLength="16.40" lengthAdjust="spacingAndGlyphs" stroke="#2a2a2a" stroke-width="0.234">"1"</text>
<line x1="276.50" y1="330.50" x2="285.50" y2="330.50" stroke="#444" stroke-width="0.7"/>
<line x1="282.50" y1="328.70" x2="285.50" y2="330.50" stroke="#444" stroke-width="0.7"/>
<line x1="282.50" y1="332.30" x2="285.50" y2="330.50" stroke="#444" stroke-width="0.7"/>
<text xml:space="preserve" x="265.15" y="56.00" font-size="12.5" text-anchor="middle" fill="#111" font-weight="normal" textLength="17.30" lengthAdjust="spacingAndGlyphs" stroke="#111" stroke-width="0.35">"A"</text>
<line x1="251.60" y1="46.10" x2="251.60" y2="55.50" stroke="#111" stroke-width="1.4"/>
<path d="M248.90,52.6 L251.60,56.9 L254.30,52.6" fill="none" stroke="#111" stroke-width="1.3" stroke-linejoin="miter"/>
<line x1="280.30" y1="46.10" x2="280.30" y2="55.50" stroke="#111" stroke-width="1.4"/>
<path d="M277.60,52.6 L280.30,56.9 L283.00,52.6" fill="none" stroke="#111" stroke-width="1.3" stroke-linejoin="miter"/>
<text xml:space="preserve" x="243.10" y="32.30" font-size="8.6" text-anchor="middle" fill="#151515" font-weight="normal" textLength="34.60" lengthAdjust="spacingAndGlyphs" stroke="#151515" stroke-width="0.155">rotation 1</text>
<line x1="62.30" y1="40.50" x2="424.10" y2="40.50" stroke="#4a4a4a" stroke-width="0.9"/>
<line x1="62.30" y1="38.90" x2="62.30" y2="42.10" stroke="#4a4a4a" stroke-width="0.7"/>
<rect x="61.60" y="39.60" width="1.40" height="1.80" fill="#333"/>
<line x1="71.40" y1="38.90" x2="71.40" y2="42.10" stroke="#4a4a4a" stroke-width="0.7"/>
<rect x="70.70" y="39.60" width="1.40" height="1.80" fill="#333"/>
<line x1="144.60" y1="38.90" x2="144.60" y2="42.10" stroke="#4a4a4a" stroke-width="0.7"/>
<rect x="143.90" y="39.60" width="1.40" height="1.80" fill="#333"/>
<line x1="150.60" y1="38.90" x2="150.60" y2="42.10" stroke="#4a4a4a" stroke-width="0.7"/>
<rect x="149.90" y="39.60" width="1.40" height="1.80" fill="#333"/>
<line x1="413.60" y1="38.90" x2="413.60" y2="42.10" stroke="#4a4a4a" stroke-width="0.7"/>
<rect x="412.90" y="39.60" width="1.40" height="1.80" fill="#333"/>
<line x1="424.10" y1="38.90" x2="424.10" y2="42.10" stroke="#4a4a4a" stroke-width="0.7"/>
<rect x="423.40" y="39.60" width="1.40" height="1.80" fill="#333"/>
<text xml:space="preserve" x="66.60" y="45.20" font-size="5.0" text-anchor="middle" fill="#1a1a1a" font-weight="normal" textLength="4.84" lengthAdjust="spacingAndGlyphs">25</text>
<text xml:space="preserve" x="107.50" y="38.80" font-size="5.0" text-anchor="middle" fill="#1a1a1a" font-weight="normal" textLength="7.26" lengthAdjust="spacingAndGlyphs">210</text>
<text xml:space="preserve" x="147.50" y="45.20" font-size="5.0" text-anchor="middle" fill="#1a1a1a" font-weight="normal" textLength="4.84" lengthAdjust="spacingAndGlyphs">20</text>
<text xml:space="preserve" x="281.50" y="38.80" font-size="5.0" text-anchor="middle" fill="#1a1a1a" font-weight="normal" textLength="7.26" lengthAdjust="spacingAndGlyphs">760</text>
<text xml:space="preserve" x="419.00" y="45.20" font-size="5.0" text-anchor="middle" fill="#1a1a1a" font-weight="normal" textLength="4.84" lengthAdjust="spacingAndGlyphs">30</text>
<text xml:space="preserve" x="425.80" y="42.20" font-size="5.2" text-anchor="start" fill="#1a1a1a" font-weight="normal" textLength="17.95" lengthAdjust="spacingAndGlyphs">1045 cm</text>
<line x1="62.70" y1="343.50" x2="424.10" y2="343.50" stroke="#4a4a4a" stroke-width="0.9"/>
<line x1="62.70" y1="341.90" x2="62.70" y2="345.10" stroke="#4a4a4a" stroke-width="0.7"/>
<rect x="62.00" y="342.60" width="1.40" height="1.80" fill="#333"/>
<line x1="71.60" y1="341.90" x2="71.60" y2="345.10" stroke="#4a4a4a" stroke-width="0.7"/>
<rect x="70.90" y="342.60" width="1.40" height="1.80" fill="#333"/>
<line x1="175.70" y1="341.90" x2="175.70" y2="345.10" stroke="#4a4a4a" stroke-width="0.7"/>
<rect x="175.00" y="342.60" width="1.40" height="1.80" fill="#333"/>
<line x1="183.60" y1="341.90" x2="183.60" y2="345.10" stroke="#4a4a4a" stroke-width="0.7"/>
<rect x="182.90" y="342.60" width="1.40" height="1.80" fill="#333"/>
<line x1="413.60" y1="341.90" x2="413.60" y2="345.10" stroke="#4a4a4a" stroke-width="0.7"/>
<rect x="412.90" y="342.60" width="1.40" height="1.80" fill="#333"/>
<line x1="424.10" y1="341.90" x2="424.10" y2="345.10" stroke="#4a4a4a" stroke-width="0.7"/>
<rect x="423.40" y="342.60" width="1.40" height="1.80" fill="#333"/>
<text xml:space="preserve" x="66.60" y="348.20" font-size="5.0" text-anchor="middle" fill="#1a1a1a" font-weight="normal" textLength="4.84" lengthAdjust="spacingAndGlyphs">25</text>
<text xml:space="preserve" x="123.40" y="341.80" font-size="5.0" text-anchor="middle" fill="#1a1a1a" font-weight="normal" textLength="7.26" lengthAdjust="spacingAndGlyphs">300</text>
<text xml:space="preserve" x="179.60" y="348.20" font-size="5.0" text-anchor="middle" fill="#1a1a1a" font-weight="normal" textLength="4.84" lengthAdjust="spacingAndGlyphs">25</text>
<text xml:space="preserve" x="297.80" y="341.80" font-size="5.0" text-anchor="middle" fill="#1a1a1a" font-weight="normal" textLength="7.26" lengthAdjust="spacingAndGlyphs">665</text>
<text xml:space="preserve" x="419.00" y="348.20" font-size="5.0" text-anchor="middle" fill="#1a1a1a" font-weight="normal" textLength="4.84" lengthAdjust="spacingAndGlyphs">20</text>
<text xml:space="preserve" x="425.80" y="345.20" font-size="5.2" text-anchor="start" fill="#1a1a1a" font-weight="normal" textLength="17.95" lengthAdjust="spacingAndGlyphs">1045 cm</text>
<line x1="29.50" y1="74.00" x2="29.50" y2="309.00" stroke="#6a6a6a" stroke-width="0.9"/>
<line x1="27.90" y1="74.00" x2="31.10" y2="74.00" stroke="#4a4a4a" stroke-width="0.7"/>
<rect x="28.60" y="73.30" width="1.80" height="1.40" fill="#333"/>
<line x1="27.90" y1="84.00" x2="31.10" y2="84.00" stroke="#4a4a4a" stroke-width="0.7"/>
<rect x="28.60" y="83.30" width="1.80" height="1.40" fill="#333"/>
<line x1="27.90" y1="130.00" x2="31.10" y2="130.00" stroke="#4a4a4a" stroke-width="0.7"/>
<rect x="28.60" y="129.30" width="1.80" height="1.40" fill="#333"/>
<line x1="27.90" y1="136.50" x2="31.10" y2="136.50" stroke="#4a4a4a" stroke-width="0.7"/>
<rect x="28.60" y="135.80" width="1.80" height="1.40" fill="#333"/>
<line x1="27.90" y1="225.30" x2="31.10" y2="225.30" stroke="#4a4a4a" stroke-width="0.7"/>
<rect x="28.60" y="224.60" width="1.80" height="1.40" fill="#333"/>
<line x1="27.90" y1="234.50" x2="31.10" y2="234.50" stroke="#4a4a4a" stroke-width="0.7"/>
<rect x="28.60" y="233.80" width="1.80" height="1.40" fill="#333"/>
<line x1="27.90" y1="301.50" x2="31.10" y2="301.50" stroke="#4a4a4a" stroke-width="0.7"/>
<rect x="28.60" y="300.80" width="1.80" height="1.40" fill="#333"/>
<line x1="27.90" y1="309.00" x2="31.10" y2="309.00" stroke="#4a4a4a" stroke-width="0.7"/>
<rect x="28.60" y="308.30" width="1.80" height="1.40" fill="#333"/>
<text xml:space="preserve" x="31.60" y="64.00" font-size="5.2" text-anchor="middle" fill="#1a1a1a" font-weight="normal" transform="rotate(-90 31.60 64.00)" textLength="15.35" lengthAdjust="spacingAndGlyphs">664 cm</text>
<text xml:space="preserve" x="33.40" y="78.80" font-size="5.0" text-anchor="middle" fill="#1a1a1a" font-weight="normal" transform="rotate(-90 33.40 78.80)" textLength="4.84" lengthAdjust="spacingAndGlyphs">30</text>
<text xml:space="preserve" x="28.10" y="106.60" font-size="5.0" text-anchor="middle" fill="#1a1a1a" font-weight="normal" transform="rotate(-90 28.10 106.60)" textLength="7.26" lengthAdjust="spacingAndGlyphs">134</text>
<text xml:space="preserve" x="33.40" y="133.20" font-size="5.0" text-anchor="middle" fill="#1a1a1a" font-weight="normal" transform="rotate(-90 33.40 133.20)" textLength="4.84" lengthAdjust="spacingAndGlyphs">20</text>
<text xml:space="preserve" x="28.10" y="180.00" font-size="5.0" text-anchor="middle" fill="#1a1a1a" font-weight="normal" transform="rotate(-90 28.10 180.00)" textLength="7.26" lengthAdjust="spacingAndGlyphs">255</text>
<text xml:space="preserve" x="33.40" y="229.80" font-size="5.0" text-anchor="middle" fill="#1a1a1a" font-weight="normal" transform="rotate(-90 33.40 229.80)" textLength="4.84" lengthAdjust="spacingAndGlyphs">25</text>
<text xml:space="preserve" x="28.10" y="267.40" font-size="5.0" text-anchor="middle" fill="#1a1a1a" font-weight="normal" transform="rotate(-90 28.10 267.40)" textLength="7.26" lengthAdjust="spacingAndGlyphs">195</text>
<text xml:space="preserve" x="33.40" y="305.30" font-size="5.0" text-anchor="middle" fill="#1a1a1a" font-weight="normal" transform="rotate(-90 33.40 305.30)" textLength="4.84" lengthAdjust="spacingAndGlyphs">25</text>
<line x1="457.50" y1="74.40" x2="457.50" y2="310.00" stroke="#6a6a6a" stroke-width="0.9"/>
<line x1="455.90" y1="74.40" x2="459.10" y2="74.40" stroke="#4a4a4a" stroke-width="0.7"/>
<rect x="456.60" y="73.70" width="1.80" height="1.40" fill="#333"/>
<line x1="455.90" y1="81.20" x2="459.10" y2="81.20" stroke="#4a4a4a" stroke-width="0.7"/>
<rect x="456.60" y="80.50" width="1.80" height="1.40" fill="#333"/>
<line x1="455.90" y1="202.00" x2="459.10" y2="202.00" stroke="#4a4a4a" stroke-width="0.7"/>
<rect x="456.60" y="201.30" width="1.80" height="1.40" fill="#333"/>
<line x1="455.90" y1="297.70" x2="459.10" y2="297.70" stroke="#4a4a4a" stroke-width="0.7"/>
<rect x="456.60" y="297.00" width="1.80" height="1.40" fill="#333"/>
<line x1="455.90" y1="310.00" x2="459.10" y2="310.00" stroke="#4a4a4a" stroke-width="0.7"/>
<rect x="456.60" y="309.30" width="1.80" height="1.40" fill="#333"/>
<text xml:space="preserve" x="459.40" y="64.00" font-size="5.2" text-anchor="middle" fill="#1a1a1a" font-weight="normal" transform="rotate(-90 459.40 64.00)" textLength="15.35" lengthAdjust="spacingAndGlyphs">664 cm</text>
<text xml:space="preserve" x="461.50" y="78.60" font-size="5.0" text-anchor="middle" fill="#1a1a1a" font-weight="normal" transform="rotate(-90 461.50 78.60)" textLength="4.84" lengthAdjust="spacingAndGlyphs">30</text>
<text xml:space="preserve" x="459.90" y="155.80" font-size="5.0" text-anchor="middle" fill="#1a1a1a" font-weight="normal" transform="rotate(-90 459.90 155.80)" textLength="7.26" lengthAdjust="spacingAndGlyphs">290</text>
<text xml:space="preserve" x="454.30" y="192.40" font-size="5.0" text-anchor="middle" fill="#1a1a1a" font-weight="normal" transform="rotate(-90 454.30 192.40)" textLength="7.26" lengthAdjust="spacingAndGlyphs">628</text>
<text xml:space="preserve" x="461.50" y="303.50" font-size="5.0" text-anchor="middle" fill="#1a1a1a" font-weight="normal" transform="rotate(-90 461.50 303.50)" textLength="4.84" lengthAdjust="spacingAndGlyphs">20</text>
<line x1="455.80" y1="90.70" x2="455.80" y2="202.00" stroke="#4a4a4a" stroke-width="0.7"/>
<line x1="454.30" y1="109.00" x2="457.30" y2="109.00" stroke="#4a4a4a" stroke-width="0.6"/>
<text xml:space="preserve" x="457.50" y="99.50" font-size="5.0" text-anchor="middle" fill="#1e1e1e" font-weight="normal" transform="rotate(-90 457.50 99.50)">270 cm</text>
<rect x="87.70" y="376.10" width="21.10" height="93.40" fill="#0000ff" stroke="#1a1a3a" stroke-width="0.6"/>
<rect x="108.80" y="376.10" width="30.70" height="93.40" fill="#00ff00" stroke="#1a3a1a" stroke-width="0.6"/>
<rect x="139.50" y="376.10" width="30.90" height="93.40" fill="#00ff00" stroke="#1a3a1a" stroke-width="0.6"/>
<rect x="170.40" y="376.10" width="30.90" height="93.40" fill="#00ff00" stroke="#1a3a1a" stroke-width="0.6"/>
<rect x="201.30" y="376.10" width="30.70" height="93.40" fill="#00ff00" stroke="#1a3a1a" stroke-width="0.6"/>
<rect x="257.60" y="376.10" width="31.20" height="93.40" fill="#00ff00" stroke="#1a3a1a" stroke-width="0.6"/>
<rect x="288.80" y="376.10" width="30.60" height="93.40" fill="#00ff00" stroke="#1a3a1a" stroke-width="0.6"/>
<rect x="319.40" y="376.10" width="31.30" height="93.40" fill="#00ff00" stroke="#1a3a1a" stroke-width="0.6"/>
<rect x="232.00" y="376.10" width="4.20" height="93.40" fill="#f8fff8" stroke="#555" stroke-width="0.4"/>
<rect x="236.20" y="376.10" width="21.40" height="93.40" fill="#0000ff" stroke="#1a1a3a" stroke-width="0.6"/>
<rect x="350.70" y="376.10" width="25.80" height="93.40" fill="#ffff00" stroke="#4a4a10" stroke-width="0.7"/>
<line x1="367.40" y1="376.10" x2="367.40" y2="469.50" stroke="#4a4a10" stroke-width="0.8" stroke-dasharray="8.5 3.5" stroke-dashoffset="2.9"/>
<line x1="353.00" y1="395.00" x2="376.00" y2="395.00" stroke="#5a5a10" stroke-width="0.6" stroke-dasharray="1.2 1.4"/>
<circle cx="369.6" cy="395.00" r="1.7" fill="#7a1a08"/>
<line x1="353.00" y1="450.40" x2="376.00" y2="450.40" stroke="#5a5a10" stroke-width="0.6" stroke-dasharray="1.2 1.4"/>
<circle cx="369.6" cy="450.40" r="1.7" fill="#7a1a08"/>
<rect x="106.90" y="390.20" width="3.80" height="3.00" fill="#2a1208"/>
<rect x="106.80" y="393.20" width="7.20" height="3.60" fill="#e8e060" stroke="#505020" stroke-width="0.5"/>
<rect x="109.60" y="393.80" width="1.60" height="2.40" fill="#404018"/>
<rect x="106.90" y="452.10" width="3.80" height="3.00" fill="#2a1208"/>
<rect x="106.80" y="448.50" width="7.20" height="3.60" fill="#e8e060" stroke="#505020" stroke-width="0.5"/>
<rect x="109.60" y="449.10" width="1.60" height="2.40" fill="#404018"/>
<rect x="137.60" y="390.20" width="3.80" height="3.00" fill="#2a1208"/>
<rect x="134.90" y="393.20" width="7.20" height="3.60" fill="#e8e060" stroke="#505020" stroke-width="0.5"/>
<rect x="137.70" y="393.80" width="1.60" height="2.40" fill="#404018"/>
<rect x="137.60" y="452.10" width="3.80" height="3.00" fill="#2a1208"/>
<rect x="134.90" y="448.50" width="7.20" height="3.60" fill="#e8e060" stroke="#505020" stroke-width="0.5"/>
<rect x="137.70" y="449.10" width="1.60" height="2.40" fill="#404018"/>
<rect x="168.50" y="390.20" width="3.80" height="3.00" fill="#2a1208"/>
<rect x="165.80" y="393.20" width="7.20" height="3.60" fill="#e8e060" stroke="#505020" stroke-width="0.5"/>
<rect x="168.60" y="393.80" width="1.60" height="2.40" fill="#404018"/>
<rect x="168.50" y="452.10" width="3.80" height="3.00" fill="#2a1208"/>
<rect x="165.80" y="448.50" width="7.20" height="3.60" fill="#e8e060" stroke="#505020" stroke-width="0.5"/>
<rect x="168.60" y="449.10" width="1.60" height="2.40" fill="#404018"/>
<rect x="199.40" y="390.20" width="3.80" height="3.00" fill="#2a1208"/>
<rect x="196.70" y="393.20" width="7.20" height="3.60" fill="#e8e060" stroke="#505020" stroke-width="0.5"/>
<rect x="199.50" y="393.80" width="1.60" height="2.40" fill="#404018"/>
<rect x="199.40" y="452.10" width="3.80" height="3.00" fill="#2a1208"/>
<rect x="196.70" y="448.50" width="7.20" height="3.60" fill="#e8e060" stroke="#505020" stroke-width="0.5"/>
<rect x="199.50" y="449.10" width="1.60" height="2.40" fill="#404018"/>
<rect x="227.90" y="390.40" width="6.00" height="2.60" fill="#8a8a8a" stroke="#444" stroke-width="0.4"/>
<rect x="227.40" y="393.20" width="7.20" height="3.60" fill="#e8e060" stroke="#505020" stroke-width="0.5"/>
<rect x="230.20" y="393.80" width="1.60" height="2.40" fill="#404018"/>
<rect x="227.90" y="452.30" width="6.00" height="2.60" fill="#8a8a8a" stroke="#444" stroke-width="0.4"/>
<rect x="227.40" y="448.50" width="7.20" height="3.60" fill="#e8e060" stroke="#505020" stroke-width="0.5"/>
<rect x="230.20" y="449.10" width="1.60" height="2.40" fill="#404018"/>
<rect x="255.70" y="390.20" width="3.80" height="3.00" fill="#2a1208"/>
<rect x="255.60" y="393.20" width="7.20" height="3.60" fill="#e8e060" stroke="#505020" stroke-width="0.5"/>
<rect x="258.40" y="393.80" width="1.60" height="2.40" fill="#404018"/>
<rect x="255.70" y="452.10" width="3.80" height="3.00" fill="#2a1208"/>
<rect x="255.60" y="448.50" width="7.20" height="3.60" fill="#e8e060" stroke="#505020" stroke-width="0.5"/>
<rect x="258.40" y="449.10" width="1.60" height="2.40" fill="#404018"/>
<rect x="286.90" y="390.20" width="3.80" height="3.00" fill="#2a1208"/>
<rect x="284.20" y="393.20" width="7.20" height="3.60" fill="#e8e060" stroke="#505020" stroke-width="0.5"/>
<rect x="287.00" y="393.80" width="1.60" height="2.40" fill="#404018"/>
<rect x="286.90" y="452.10" width="3.80" height="3.00" fill="#2a1208"/>
<rect x="284.20" y="448.50" width="7.20" height="3.60" fill="#e8e060" stroke="#505020" stroke-width="0.5"/>
<rect x="287.00" y="449.10" width="1.60" height="2.40" fill="#404018"/>
<rect x="317.50" y="390.20" width="3.80" height="3.00" fill="#2a1208"/>
<rect x="314.80" y="393.20" width="7.20" height="3.60" fill="#e8e060" stroke="#505020" stroke-width="0.5"/>
<rect x="317.60" y="393.80" width="1.60" height="2.40" fill="#404018"/>
<rect x="317.50" y="452.10" width="3.80" height="3.00" fill="#2a1208"/>
<rect x="314.80" y="448.50" width="7.20" height="3.60" fill="#e8e060" stroke="#505020" stroke-width="0.5"/>
<rect x="317.60" y="449.10" width="1.60" height="2.40" fill="#404018"/>
<rect x="348.80" y="390.20" width="3.80" height="3.00" fill="#2a1208"/>
<rect x="346.10" y="393.20" width="7.20" height="3.60" fill="#e8e060" stroke="#505020" stroke-width="0.5"/>
<rect x="348.90" y="393.80" width="1.60" height="2.40" fill="#404018"/>
<rect x="348.80" y="452.10" width="3.80" height="3.00" fill="#2a1208"/>
<rect x="346.10" y="448.50" width="7.20" height="3.60" fill="#e8e060" stroke="#505020" stroke-width="0.5"/>
<rect x="348.90" y="449.10" width="1.60" height="2.40" fill="#404018"/>
<rect x="86.40" y="384.10" width="2.80" height="2.80" fill="#401010"/>
<rect x="86.40" y="421.10" width="2.80" height="2.80" fill="#401010"/>
<rect x="86.40" y="458.90" width="2.80" height="2.80" fill="#401010"/>
<text xml:space="preserve" x="100.50" y="422.50" font-size="6.0" text-anchor="middle" fill="#101060" font-weight="normal" transform="rotate(-90 100.50 422.50)" stroke="#101060" stroke-width="0.108">90x270</text>
<text xml:space="preserve" x="126.00" y="422.50" font-size="6.0" text-anchor="middle" fill="#1a3a1a" font-weight="normal" transform="rotate(-90 126.00 422.50)" stroke="#1a3a1a" stroke-width="0.108">90x270</text>
<text xml:space="preserve" x="157.00" y="422.50" font-size="6.0" text-anchor="middle" fill="#1a3a1a" font-weight="normal" transform="rotate(-90 157.00 422.50)" stroke="#1a3a1a" stroke-width="0.108">90x270</text>
<text xml:space="preserve" x="187.90" y="422.50" font-size="6.0" text-anchor="middle" fill="#1a3a1a" font-weight="normal" transform="rotate(-90 187.90 422.50)" stroke="#1a3a1a" stroke-width="0.108">90x270</text>
<text xml:space="preserve" x="218.70" y="422.50" font-size="6.0" text-anchor="middle" fill="#1a3a1a" font-weight="normal" transform="rotate(-90 218.70 422.50)" stroke="#1a3a1a" stroke-width="0.108">90x270</text>
<text xml:space="preserve" x="249.10" y="422.50" font-size="6.0" text-anchor="middle" fill="#202080" font-weight="normal" transform="rotate(-90 249.10 422.50)" stroke="#202080" stroke-width="0.108">90x270</text>
<text xml:space="preserve" x="275.10" y="422.50" font-size="6.0" text-anchor="middle" fill="#1a3a1a" font-weight="normal" transform="rotate(-90 275.10 422.50)" stroke="#1a3a1a" stroke-width="0.108">90x270</text>
<text xml:space="preserve" x="306.10" y="422.50" font-size="6.0" text-anchor="middle" fill="#1a3a1a" font-weight="normal" transform="rotate(-90 306.10 422.50)" stroke="#1a3a1a" stroke-width="0.108">90x270</text>
<text xml:space="preserve" x="337.20" y="422.50" font-size="6.0" text-anchor="middle" fill="#1a3a1a" font-weight="normal" transform="rotate(-90 337.20 422.50)" stroke="#1a3a1a" stroke-width="0.108">90x270</text>
<text xml:space="preserve" x="365.40" y="422.50" font-size="6.0" text-anchor="middle" fill="#404000" font-weight="normal" transform="rotate(-90 365.40 422.50)" stroke="#404000" stroke-width="0.108">75x270</text>
<text xml:space="preserve" x="86.00" y="422.50" font-size="5.0" text-anchor="middle" fill="#1e1e1e" font-weight="normal" transform="rotate(-90 86.00 422.50)">AE 270</text>
<text xml:space="preserve" x="235.90" y="424.50" font-size="5.0" text-anchor="middle" fill="#1a1a1a" font-weight="normal" transform="rotate(-90 235.90 424.50)" textLength="35.00" lengthAdjust="spacingAndGlyphs">Wie 10x270</text>
<line x1="61.40" y1="376.10" x2="61.40" y2="469.30" stroke="#4a4a4a" stroke-width="0.8"/>
<line x1="59.90" y1="376.10" x2="62.90" y2="376.10" stroke="#4a4a4a" stroke-width="0.6"/>
<line x1="59.90" y1="469.30" x2="62.90" y2="469.30" stroke="#4a4a4a" stroke-width="0.6"/>
<text xml:space="preserve" x="63.20" y="367.50" font-size="5.0" text-anchor="middle" fill="#1e1e1e" font-weight="normal" transform="rotate(-90 63.20 367.50)">270 cm</text>
<text xml:space="preserve" x="65.40" y="422.50" font-size="5.0" text-anchor="middle" fill="#1e1e1e" font-weight="normal" transform="rotate(-90 65.40 422.50)">270</text>
<line x1="87.40" y1="479.20" x2="367.40" y2="479.20" stroke="#4a4a4a" stroke-width="0.8"/>
<line x1="87.40" y1="477.70" x2="87.40" y2="480.70" stroke="#4a4a4a" stroke-width="0.6"/>
<line x1="367.40" y1="477.70" x2="367.40" y2="480.70" stroke="#4a4a4a" stroke-width="0.6"/>
<text xml:space="preserve" x="227.00" y="484.00" font-size="4.2" text-anchor="middle" fill="#1e1e1e" font-weight="normal">810</text>
<text xml:space="preserve" x="369.50" y="481.20" font-size="4.8" text-anchor="start" fill="#1e1e1e" font-weight="normal" textLength="14.30" lengthAdjust="spacingAndGlyphs">810 cm</text>
<text xml:space="preserve" x="221.20" y="491.80" font-size="7.8" text-anchor="middle" fill="#1e1e1e" font-weight="normal" textLength="43.60" lengthAdjust="spacingAndGlyphs" stroke="#1e1e1e" stroke-width="0.140">Echelle: 1: 50</text>
<text xml:space="preserve" x="220.00" y="360.80" font-size="9.4" text-anchor="middle" fill="#151515" font-weight="normal" textLength="85.30" lengthAdjust="spacingAndGlyphs" stroke="#151515" stroke-width="0.169">Vue en élévation "A"</text>
<text xml:space="preserve" x="242.90" y="354.60" font-size="7.4" text-anchor="middle" fill="#1e1e1e" font-weight="normal" textLength="127.40" lengthAdjust="spacingAndGlyphs" stroke="#1e1e1e" stroke-width="0.133">Echelle: 1: 50  Largeur de coupe 10cm</text>
<text xml:space="preserve" x="505.10" y="82.60" font-size="8.5" text-anchor="middle" fill="#151515" font-weight="normal" textLength="63.60" lengthAdjust="spacingAndGlyphs" stroke="#151515" stroke-width="0.153">vue en coupe "1"</text>
<rect x="519.10" y="109.20" width="4.20" height="92.70" fill="#00ff00" stroke="#1a3a1a" stroke-width="0.6"/>
<rect x="523.30" y="109.20" width="7.40" height="92.70" fill="#ffc8c8" stroke="#554" stroke-width="0.5"/>
<rect x="530.70" y="109.20" width="5.10" height="92.70" fill="#00ff00" stroke="#1a3a1a" stroke-width="0.6"/>
<line x1="514.90" y1="128.10" x2="540.50" y2="128.10" stroke="#777" stroke-width="0.9"/>
<line x1="514.90" y1="182.80" x2="540.50" y2="182.80" stroke="#777" stroke-width="0.9"/>
<line x1="455.00" y1="201.90" x2="550.50" y2="201.90" stroke="#444" stroke-width="0.9"/>
<path d="M487.3,102.2 L487.3,139.9 L519,139.9 L519,137.3 L489.9,137.3 L489.9,102.2 Z" fill="#d0d0d0" stroke="#555" stroke-width="0.6"/>
<path d="M500.5,139.9 L517.8,158.2 L519.0,156.6 L503.3,139.9 Z" fill="#d0d0d0" stroke="#555" stroke-width="0.5"/>
<line x1="462.10" y1="200.90" x2="518.60" y2="131.20" stroke="#a01818" stroke-width="2.6"/>
<line x1="462.10" y1="201.00" x2="518.60" y2="187.40" stroke="#601414" stroke-width="1.6"/>
<rect x="517.20" y="129.40" width="2.80" height="3.80" fill="#111"/>
<rect x="517.20" y="185.60" width="2.80" height="3.60" fill="#111"/>
<rect x="460.30" y="199.30" width="3.70" height="3.50" fill="#a01818"/>
<text xml:space="preserve" x="505.60" y="227.80" font-size="8.0" text-anchor="middle" fill="#1e1e1e" font-weight="normal" textLength="43.60" lengthAdjust="spacingAndGlyphs" stroke="#1e1e1e" stroke-width="0.144">Echelle: 1: 50</text>
<line x1="521.00" y1="213.20" x2="533.00" y2="213.20" stroke="#555" stroke-width="0.5"/>
<text xml:space="preserve" x="525.50" y="216.20" font-size="3.2" text-anchor="middle" fill="#1e1e1e" font-weight="normal">25</text>
<text xml:space="preserve" x="533.50" y="215.80" font-size="3.8" text-anchor="start" fill="#1e1e1e" font-weight="normal">25 cm</text>
<line x1="555.80" y1="109.30" x2="555.80" y2="202.20" stroke="#4a4a4a" stroke-width="0.8"/>
<line x1="554.30" y1="109.30" x2="557.30" y2="109.30" stroke="#4a4a4a" stroke-width="0.6"/>
<line x1="554.30" y1="202.20" x2="557.30" y2="202.20" stroke="#4a4a4a" stroke-width="0.6"/>
<text xml:space="preserve" x="557.20" y="98.50" font-size="5.0" text-anchor="middle" fill="#1e1e1e" font-weight="normal" transform="rotate(-90 557.20 98.50)">270 cm</text>
<text xml:space="preserve" x="558.60" y="153.30" font-size="5.0" text-anchor="middle" fill="#1e1e1e" font-weight="normal" transform="rotate(-90 558.60 153.30)">270</text>
<text xml:space="preserve" x="565.30" y="35.40" font-size="8.7" text-anchor="start" fill="#1a1a1a" font-weight="normal" textLength="102.40" lengthAdjust="spacingAndGlyphs" stroke="#1a1a1a" stroke-width="0.157">Liste du matériel  rotation 1</text>
<text xml:space="preserve" x="574.80" y="42.90" font-size="4.5" text-anchor="start" fill="#1e1e1e" font-weight="normal" textLength="16.70" lengthAdjust="spacingAndGlyphs">rotation 1</text>
<text xml:space="preserve" x="594.90" y="42.90" font-size="4.5" text-anchor="start" fill="#1e1e1e" font-weight="normal" textLength="21.00" lengthAdjust="spacingAndGlyphs">Désignation</text>
<line x1="563.20" y1="43.40" x2="671.60" y2="43.40" stroke="#666" stroke-width="0.9"/>
<text xml:space="preserve" x="564.40" y="49.90" font-size="4.5" text-anchor="start" fill="#1e1e1e" font-weight="normal" textLength="16.80" lengthAdjust="spacingAndGlyphs" stroke="#1e1e1e" stroke-width="0.15">Panneaux</text>
<text xml:space="preserve" x="591.90" y="55.80" font-size="4.5" text-anchor="end" fill="#1e1e1e" font-weight="normal">13</text>
<text xml:space="preserve" x="594.90" y="55.80" font-size="4.5" text-anchor="start" fill="#1e1e1e" font-weight="normal" textLength="25.50" lengthAdjust="spacingAndGlyphs">Tafel 300x55</text>
<text xml:space="preserve" x="591.90" y="61.85" font-size="4.5" text-anchor="end" fill="#1e1e1e" font-weight="normal">40</text>
<text xml:space="preserve" x="594.90" y="61.85" font-size="4.5" text-anchor="start" fill="#1e1e1e" font-weight="normal" textLength="33.20" lengthAdjust="spacingAndGlyphs">Tafel NV 270x90</text>
<text xml:space="preserve" x="591.90" y="67.90" font-size="4.5" text-anchor="end" fill="#1e1e1e" font-weight="normal">2</text>
<text xml:space="preserve" x="594.90" y="67.90" font-size="4.5" text-anchor="start" fill="#1e1e1e" font-weight="normal" textLength="33.20" lengthAdjust="spacingAndGlyphs">Tafel NV 270x75</text>
<text xml:space="preserve" x="591.90" y="73.95" font-size="4.5" text-anchor="end" fill="#1e1e1e" font-weight="normal">9</text>
<text xml:space="preserve" x="594.90" y="73.95" font-size="4.5" text-anchor="start" fill="#1e1e1e" font-weight="normal" textLength="33.20" lengthAdjust="spacingAndGlyphs">Tafel NV 270x60</text>
<text xml:space="preserve" x="591.90" y="80.00" font-size="4.5" text-anchor="end" fill="#1e1e1e" font-weight="normal">2</text>
<text xml:space="preserve" x="594.90" y="80.00" font-size="4.5" text-anchor="start" fill="#1e1e1e" font-weight="normal" textLength="33.20" lengthAdjust="spacingAndGlyphs">Tafel NV 270x45</text>
<text xml:space="preserve" x="591.90" y="86.05" font-size="4.5" text-anchor="end" fill="#1e1e1e" font-weight="normal">6</text>
<text xml:space="preserve" x="594.90" y="86.05" font-size="4.5" text-anchor="start" fill="#1e1e1e" font-weight="normal" textLength="33.20" lengthAdjust="spacingAndGlyphs">Tafel NV 270x30</text>
<text xml:space="preserve" x="591.90" y="92.10" font-size="4.5" text-anchor="end" fill="#1e1e1e" font-weight="normal">3</text>
<text xml:space="preserve" x="594.90" y="92.10" font-size="4.5" text-anchor="start" fill="#1e1e1e" font-weight="normal" textLength="33.20" lengthAdjust="spacingAndGlyphs">Tafel MZ 75x270</text>
<text xml:space="preserve" x="591.90" y="98.15" font-size="4.5" text-anchor="end" fill="#1e1e1e" font-weight="normal">1</text>
<text xml:space="preserve" x="594.90" y="98.15" font-size="4.5" text-anchor="start" fill="#1e1e1e" font-weight="normal" textLength="37.30" lengthAdjust="spacingAndGlyphs">Ausgleich W-270x5</text>
<text xml:space="preserve" x="591.90" y="104.20" font-size="4.5" text-anchor="end" fill="#1e1e1e" font-weight="normal">10</text>
<text xml:space="preserve" x="594.90" y="104.20" font-size="4.5" text-anchor="start" fill="#1e1e1e" font-weight="normal" textLength="63.10" lengthAdjust="spacingAndGlyphs">Kompensationsblech BA 270x20</text>
<text xml:space="preserve" x="591.90" y="110.25" font-size="4.5" text-anchor="end" fill="#1e1e1e" font-weight="normal">9</text>
<text xml:space="preserve" x="594.90" y="110.25" font-size="4.5" text-anchor="start" fill="#1e1e1e" font-weight="normal" textLength="35.90" lengthAdjust="spacingAndGlyphs">Innenecke 270x30</text>
<text xml:space="preserve" x="591.90" y="116.30" font-size="4.5" text-anchor="end" fill="#1e1e1e" font-weight="normal">5</text>
<text xml:space="preserve" x="594.90" y="116.30" font-size="4.5" text-anchor="start" fill="#1e1e1e" font-weight="normal" textLength="40.00" lengthAdjust="spacingAndGlyphs">Aussenecke NZ 270</text>
<text xml:space="preserve" x="564.10" y="122.60" font-size="4.5" text-anchor="start" fill="#1e1e1e" font-weight="normal" textLength="20.50" lengthAdjust="spacingAndGlyphs" stroke="#1e1e1e" stroke-width="0.15">Accessoires</text>
<text xml:space="preserve" x="591.90" y="128.80" font-size="4.5" text-anchor="end" fill="#1e1e1e" font-weight="normal">22</text>
<text xml:space="preserve" x="594.90" y="128.80" font-size="4.45" text-anchor="start" fill="#1e1e1e" font-weight="normal">Schloss Z-5</text>
<text xml:space="preserve" x="591.90" y="134.79" font-size="4.5" text-anchor="end" fill="#1e1e1e" font-weight="normal">172</text>
<text xml:space="preserve" x="594.90" y="134.79" font-size="4.45" text-anchor="start" fill="#1e1e1e" font-weight="normal">Klammer</text>
<text xml:space="preserve" x="591.90" y="140.78" font-size="4.5" text-anchor="end" fill="#1e1e1e" font-weight="normal">6</text>
<text xml:space="preserve" x="594.90" y="140.78" font-size="4.45" text-anchor="start" fill="#1e1e1e" font-weight="normal">Stirnanker AS</text>
<text xml:space="preserve" x="591.90" y="146.77" font-size="4.5" text-anchor="end" fill="#1e1e1e" font-weight="normal">172</text>
<text xml:space="preserve" x="594.90" y="146.77" font-size="4.45" text-anchor="start" fill="#1e1e1e" font-weight="normal">Muttergelenkplatte DP 180</text>
<text xml:space="preserve" x="591.90" y="152.76" font-size="4.5" text-anchor="end" fill="#1e1e1e" font-weight="normal">83</text>
<text xml:space="preserve" x="594.90" y="152.76" font-size="4.45" text-anchor="start" fill="#1e1e1e" font-weight="normal">Ankerstab S-75</text>
<text xml:space="preserve" x="591.90" y="158.75" font-size="4.5" text-anchor="end" fill="#1e1e1e" font-weight="normal">22</text>
<text xml:space="preserve" x="594.90" y="158.75" font-size="4.45" text-anchor="start" fill="#1e1e1e" font-weight="normal">Konsole WP 700</text>
<text xml:space="preserve" x="591.90" y="164.74" font-size="4.5" text-anchor="end" fill="#1e1e1e" font-weight="normal">11</text>
<text xml:space="preserve" x="594.90" y="164.74" font-size="4.45" text-anchor="start" fill="#1e1e1e" font-weight="normal">Richtstütze R250</text>
<text xml:space="preserve" x="591.90" y="170.73" font-size="4.5" text-anchor="end" fill="#1e1e1e" font-weight="normal">2</text>
<text xml:space="preserve" x="594.90" y="170.73" font-size="4.45" text-anchor="start" fill="#1e1e1e" font-weight="normal">Versetzhaken HT1,0</text>
<text xml:space="preserve" x="591.90" y="176.72" font-size="4.5" text-anchor="end" fill="#1e1e1e" font-weight="normal">11</text>
<text xml:space="preserve" x="594.90" y="176.72" font-size="4.45" text-anchor="start" fill="#1e1e1e" font-weight="normal">Richtstrebe RV120</text>
<text xml:space="preserve" x="591.90" y="182.71" font-size="4.5" text-anchor="end" fill="#1e1e1e" font-weight="normal">22</text>
<text xml:space="preserve" x="594.90" y="182.71" font-size="4.45" text-anchor="start" fill="#1e1e1e" font-weight="normal">Seitenschutzpfosten SP 110</text>
<text xml:space="preserve" x="591.90" y="188.70" font-size="4.5" text-anchor="end" fill="#1e1e1e" font-weight="normal">22</text>
<text xml:space="preserve" x="594.90" y="188.70" font-size="4.45" text-anchor="start" fill="#1e1e1e" font-weight="normal">Richtstützanschluss DP</text>
<text xml:space="preserve" x="591.90" y="194.69" font-size="4.5" text-anchor="end" fill="#1e1e1e" font-weight="normal">11</text>
<text xml:space="preserve" x="594.90" y="194.69" font-size="4.45" text-anchor="start" fill="#1e1e1e" font-weight="normal">Fußplatte</text>
<text xml:space="preserve" x="591.90" y="200.68" font-size="4.5" text-anchor="end" fill="#1e1e1e" font-weight="normal">44</text>
<text xml:space="preserve" x="594.90" y="200.68" font-size="4.45" text-anchor="start" fill="#1e1e1e" font-weight="normal">Bolzen 16/142</text>
<text xml:space="preserve" x="564.10" y="207.50" font-size="4.5" text-anchor="start" fill="#1e1e1e" font-weight="normal" textLength="11.50" lengthAdjust="spacingAndGlyphs" stroke="#1e1e1e" stroke-width="0.15">Divers</text>
<text xml:space="preserve" x="591.90" y="213.30" font-size="4.5" text-anchor="end" fill="#1e1e1e" font-weight="normal">34</text>
<text xml:space="preserve" x="594.90" y="213.30" font-size="4.5" text-anchor="start" fill="#1e1e1e" font-weight="normal" textLength="69.20" lengthAdjust="spacingAndGlyphs">Tuyau en PVC 30 cm (par le client)</text>
<text xml:space="preserve" x="591.90" y="218.80" font-size="4.5" text-anchor="end" fill="#1e1e1e" font-weight="normal">36</text>
<text xml:space="preserve" x="594.90" y="218.80" font-size="4.5" text-anchor="start" fill="#1e1e1e" font-weight="normal" textLength="69.20" lengthAdjust="spacingAndGlyphs">Tuyau en PVC 25 cm (par le client)</text>
<text xml:space="preserve" x="591.90" y="224.30" font-size="4.5" text-anchor="end" fill="#1e1e1e" font-weight="normal">13</text>
<text xml:space="preserve" x="594.90" y="224.30" font-size="4.5" text-anchor="start" fill="#1e1e1e" font-weight="normal" textLength="69.20" lengthAdjust="spacingAndGlyphs">Tuyau en PVC 20 cm (par le client)</text>
<text xml:space="preserve" x="465.80" y="293.70" font-size="9.8" text-anchor="start" fill="#1a1a1a" font-weight="normal" textLength="117.30" lengthAdjust="spacingAndGlyphs" stroke="#1a1a1a" stroke-width="0.25">informations sur la rotation  séquence 1 à 1</text>
<text xml:space="preserve" x="465.80" y="301.00" font-size="4.6" text-anchor="start" fill="#1a1a1a" font-weight="normal" textLength="21.20" lengthAdjust="spacingAndGlyphs" stroke="#1a1a1a" stroke-width="0.12">information</text>
<text xml:space="preserve" x="559.60" y="301.00" font-size="4.6" text-anchor="end" fill="#1a1a1a" font-weight="normal" textLength="18.80" lengthAdjust="spacingAndGlyphs" stroke="#1a1a1a" stroke-width="0.12">Fourniture</text>
<text xml:space="preserve" x="585.60" y="301.00" font-size="4.6" text-anchor="end" fill="#1a1a1a" font-weight="normal" textLength="17.50" lengthAdjust="spacingAndGlyphs" stroke="#1a1a1a" stroke-width="0.12">rotation 1</text>
<line x1="463.90" y1="302.20" x2="587.00" y2="302.20" stroke="#444" stroke-width="1.0"/>
<text xml:space="preserve" x="465.80" y="308.90" font-size="4.9" text-anchor="start" fill="#1a1a1a" font-weight="normal" textLength="34.32" lengthAdjust="spacingAndGlyphs">surface de coffrage</text>
<text xml:space="preserve" x="559.60" y="308.90" font-size="4.9" text-anchor="end" fill="#1a1a1a" font-weight="normal" textLength="18.53" lengthAdjust="spacingAndGlyphs">180,79 m²</text>
<text xml:space="preserve" x="585.80" y="308.90" font-size="4.9" text-anchor="end" fill="#1a1a1a" font-weight="normal" textLength="18.53" lengthAdjust="spacingAndGlyphs">180,79 m²</text>
<text xml:space="preserve" x="465.80" y="315.84" font-size="4.9" text-anchor="start" fill="#1a1a1a" font-weight="normal" textLength="56.66" lengthAdjust="spacingAndGlyphs">surface du panneau de coffrage</text>
<text xml:space="preserve" x="559.60" y="315.84" font-size="4.9" text-anchor="end" fill="#1a1a1a" font-weight="normal" textLength="18.53" lengthAdjust="spacingAndGlyphs">186,96 m²</text>
<text xml:space="preserve" x="585.80" y="315.84" font-size="4.9" text-anchor="end" fill="#1a1a1a" font-weight="normal" textLength="18.53" lengthAdjust="spacingAndGlyphs">186,96 m²</text>
<text xml:space="preserve" x="465.80" y="322.78" font-size="4.9" text-anchor="start" fill="#1a1a1a" font-weight="normal" textLength="19.21" lengthAdjust="spacingAndGlyphs">rendement</text>
<text xml:space="preserve" x="559.60" y="322.78" font-size="4.9" text-anchor="end" fill="#1a1a1a" font-weight="normal" textLength="11.67" lengthAdjust="spacingAndGlyphs">100 %</text>
<text xml:space="preserve" x="585.80" y="322.78" font-size="4.9" text-anchor="end" fill="#1a1a1a" font-weight="normal" textLength="11.67" lengthAdjust="spacingAndGlyphs">100 %</text>
<text xml:space="preserve" x="465.80" y="329.72" font-size="4.9" text-anchor="start" fill="#1a1a1a" font-weight="normal" textLength="29.71" lengthAdjust="spacingAndGlyphs">volume de béton</text>
<text xml:space="preserve" x="559.60" y="329.72" font-size="4.9" text-anchor="end" fill="#1a1a1a" font-weight="normal" textLength="16.24" lengthAdjust="spacingAndGlyphs">24,02 m³</text>
<text xml:space="preserve" x="585.80" y="329.72" font-size="4.9" text-anchor="end" fill="#1a1a1a" font-weight="normal" textLength="16.24" lengthAdjust="spacingAndGlyphs">24,02 m³</text>
<text xml:space="preserve" x="465.80" y="336.66" font-size="4.9" text-anchor="start" fill="#1a1a1a" font-weight="normal" textLength="24.34" lengthAdjust="spacingAndGlyphs">mètre linéaire</text>
<text xml:space="preserve" x="559.60" y="336.66" font-size="4.9" text-anchor="end" fill="#1a1a1a" font-weight="normal" textLength="17.16" lengthAdjust="spacingAndGlyphs">34,580 m</text>
<text xml:space="preserve" x="585.80" y="336.66" font-size="4.9" text-anchor="end" fill="#1a1a1a" font-weight="normal" textLength="17.16" lengthAdjust="spacingAndGlyphs">34,580 m</text>
<text xml:space="preserve" x="465.80" y="343.60" font-size="4.9" text-anchor="start" fill="#1a1a1a" font-weight="normal" textLength="28.59" lengthAdjust="spacingAndGlyphs">hauteur de voile</text>
<text xml:space="preserve" x="559.60" y="343.60" font-size="4.9" text-anchor="end" fill="#1a1a1a" font-weight="normal" textLength="16.93" lengthAdjust="spacingAndGlyphs">270,0 cm</text>
<text xml:space="preserve" x="585.80" y="343.60" font-size="4.9" text-anchor="end" fill="#1a1a1a" font-weight="normal" textLength="16.93" lengthAdjust="spacingAndGlyphs">270,0 cm</text>
<text xml:space="preserve" x="465.80" y="350.54" font-size="4.9" text-anchor="start" fill="#1a1a1a" font-weight="normal" textLength="30.75" lengthAdjust="spacingAndGlyphs">poids du coffrage</text>
<text xml:space="preserve" x="559.60" y="350.54" font-size="4.9" text-anchor="end" fill="#1a1a1a" font-weight="normal" textLength="18.77" lengthAdjust="spacingAndGlyphs">8777,3 Kg</text>
<text xml:space="preserve" x="585.80" y="350.54" font-size="4.9" text-anchor="end" fill="#1a1a1a" font-weight="normal" textLength="18.77" lengthAdjust="spacingAndGlyphs">8777,3 Kg</text>
<text xml:space="preserve" x="465.80" y="357.48" font-size="4.9" text-anchor="start" fill="#1a1a1a" font-weight="normal" textLength="32.09" lengthAdjust="spacingAndGlyphs">temps de coffrage</text>
<text xml:space="preserve" x="559.60" y="357.48" font-size="4.9" text-anchor="end" fill="#1a1a1a" font-weight="normal" textLength="19.68" lengthAdjust="spacingAndGlyphs">0,00 heure</text>
<text xml:space="preserve" x="585.80" y="357.48" font-size="4.9" text-anchor="end" fill="#1a1a1a" font-weight="normal" textLength="19.68" lengthAdjust="spacingAndGlyphs">0,00 heure</text>
<text xml:space="preserve" x="465.80" y="364.42" font-size="4.9" text-anchor="start" fill="#1a1a1a" font-weight="normal" textLength="37.45" lengthAdjust="spacingAndGlyphs">Temps de décoffrage</text>
<text xml:space="preserve" x="559.60" y="364.42" font-size="4.9" text-anchor="end" fill="#1a1a1a" font-weight="normal" textLength="19.68" lengthAdjust="spacingAndGlyphs">0,00 heure</text>
<text xml:space="preserve" x="585.80" y="364.42" font-size="4.9" text-anchor="end" fill="#1a1a1a" font-weight="normal" textLength="19.68" lengthAdjust="spacingAndGlyphs">0,00 heure</text>
<text xml:space="preserve" x="465.80" y="371.36" font-size="4.9" text-anchor="start" fill="#1a1a1a" font-weight="normal" textLength="28.07" lengthAdjust="spacingAndGlyphs">Prix du coffrage</text>
<text xml:space="preserve" x="559.60" y="371.36" font-size="4.9" text-anchor="end" fill="#1a1a1a" font-weight="normal" textLength="11.44" lengthAdjust="spacingAndGlyphs">0,00 €</text>
<text xml:space="preserve" x="585.80" y="371.36" font-size="4.9" text-anchor="end" fill="#1a1a1a" font-weight="normal" textLength="11.44" lengthAdjust="spacingAndGlyphs">0,00 €</text>
<text xml:space="preserve" x="707.50" y="392.60" font-size="4.4" text-anchor="end" fill="#1e1e1e" font-weight="normal" textLength="200.50" lengthAdjust="spacingAndGlyphs">Le plan et l'exécution doivent être contrôlés par le chef de chantier qui en est responsable!</text>
<text xml:space="preserve" x="707.50" y="397.10" font-size="4.4" text-anchor="end" fill="#1e1e1e" font-weight="normal" textLength="144.60" lengthAdjust="spacingAndGlyphs">Veuillez tenir compte des instructions de montage et d'utilisation!</text>
<text xml:space="preserve" x="707.50" y="401.40" font-size="4.4" text-anchor="end" fill="#1e1e1e" font-weight="normal" textLength="230.10" lengthAdjust="spacingAndGlyphs">Les bases des dimensions sont les épaisseurs des dalles et les hauteurs d'espace exprimées dans le plan.</text>
<rect x="450.10" y="417.30" width="258.40" height="80.00" fill="none" stroke="#2e2e2e" stroke-width="1.2"/>
<line x1="450.10" y1="446.30" x2="708.50" y2="446.30" stroke="#3a3a3a" stroke-width="0.9"/>
<line x1="450.10" y1="474.40" x2="708.50" y2="474.40" stroke="#3a3a3a" stroke-width="0.9"/>
<line x1="450.10" y1="486.50" x2="708.50" y2="486.50" stroke="#3a3a3a" stroke-width="0.9"/>
<line x1="622.60" y1="446.30" x2="622.60" y2="497.30" stroke="#3a3a3a" stroke-width="0.9"/>
<text xml:space="preserve" x="579.20" y="427.40" font-size="8.0" text-anchor="middle" fill="#0a0a0a" font-weight="bold" textLength="49.90" lengthAdjust="spacingAndGlyphs">H.J. Schewe</text>
<text xml:space="preserve" x="579.40" y="435.80" font-size="6.8" text-anchor="middle" fill="#1e1e1e" font-weight="normal" textLength="57.00" lengthAdjust="spacingAndGlyphs" stroke="#1e1e1e" stroke-width="0.122">Pfaffingerstraße 27</text>
<text xml:space="preserve" x="578.90" y="442.60" font-size="6.8" text-anchor="middle" fill="#1e1e1e" font-weight="normal" textLength="38.40" lengthAdjust="spacingAndGlyphs" stroke="#1e1e1e" stroke-width="0.122">83533 Edling</text>
<text xml:space="preserve" x="455.30" y="454.80" font-size="3.0" text-anchor="start" fill="#2a2a2a" font-weight="normal">client</text>
<text xml:space="preserve" x="492.60" y="458.70" font-size="5.6" text-anchor="start" fill="#151515" font-weight="bold" textLength="57.40" lengthAdjust="spacingAndGlyphs">EuroSchal Homepage</text>
<text xml:space="preserve" x="455.30" y="480.80" font-size="3.0" text-anchor="start" fill="#2a2a2a" font-weight="normal">projet</text>
<text xml:space="preserve" x="479.00" y="482.70" font-size="5.6" text-anchor="start" fill="#151515" font-weight="bold" textLength="41.30" lengthAdjust="spacingAndGlyphs">Mustergrundriß</text>
<text xml:space="preserve" x="455.30" y="492.50" font-size="3.0" text-anchor="start" fill="#2a2a2a" font-weight="normal">Coffrage</text>
<text xml:space="preserve" x="479.00" y="494.60" font-size="5.8" text-anchor="start" fill="#1e1e1e" font-weight="normal" textLength="60.80" lengthAdjust="spacingAndGlyphs">Ulma Nevi (Hauptlager)</text>
<text xml:space="preserve" x="627.80" y="454.60" font-size="3.0" text-anchor="start" fill="#2a2a2a" font-weight="normal">personne effectuant le travail</text>
<text xml:space="preserve" x="627.60" y="464.30" font-size="5.8" text-anchor="start" fill="#1e1e1e" font-weight="normal" textLength="32.30" lengthAdjust="spacingAndGlyphs">H.J. Schewe</text>
<text xml:space="preserve" x="627.80" y="480.80" font-size="3.0" text-anchor="start" fill="#2a2a2a" font-weight="normal">fichier</text>
<text xml:space="preserve" x="654.00" y="483.00" font-size="5.6" text-anchor="start" fill="#1e1e1e" font-weight="normal" textLength="29.50" lengthAdjust="spacingAndGlyphs">DEMO.WSL</text>
<text xml:space="preserve" x="627.80" y="492.50" font-size="3.0" text-anchor="start" fill="#2a2a2a" font-weight="normal">date</text>
<text xml:space="preserve" x="654.00" y="494.90" font-size="5.8" text-anchor="start" fill="#1e1e1e" font-weight="normal" textLength="29.00" lengthAdjust="spacingAndGlyphs">25.01.2022</text>
</svg></body></html>
